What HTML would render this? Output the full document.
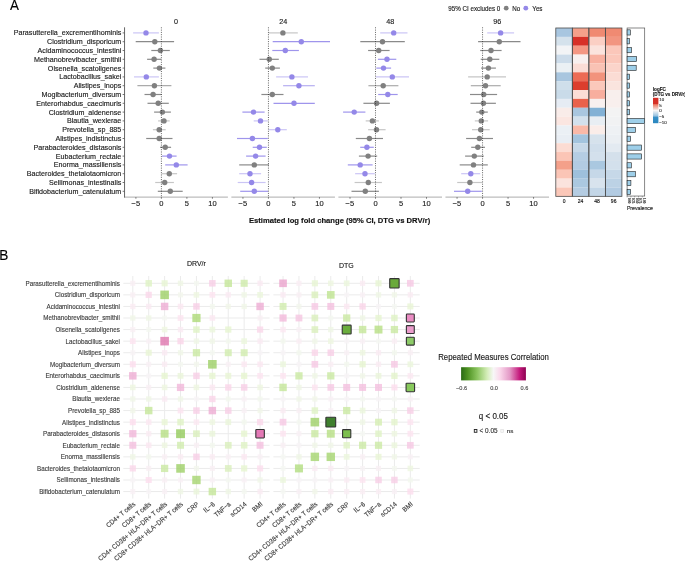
<!DOCTYPE html><html><head><meta charset="utf-8"><title>Figure</title><style>html,body{margin:0;padding:0;background:#fff;}body{width:685px;height:561px;overflow:hidden;position:relative;}svg text{font-family:"Liberation Sans", sans-serif;}svg text{filter:grayscale(1);stroke-width:0.14px;}</style></head><body><svg width="685" height="561" viewBox="0 0 685 561" style="position:absolute;left:0;top:0">
<rect width="685" height="561" fill="#fff"/>
<text transform="translate(9.9,9.9) scale(0.93,1)" font-size="14.4" fill="#000" stroke="#000">A</text>
<text x="121.3" y="35.4" font-size="7.15" text-anchor="end" fill="#1a1a1a" stroke="#1a1a1a">Parasutterella_excrementihominis</text>
<text x="121.3" y="44.2" font-size="7.15" text-anchor="end" fill="#1a1a1a" stroke="#1a1a1a">Clostridium_disporicum</text>
<text x="121.3" y="53" font-size="7.15" text-anchor="end" fill="#1a1a1a" stroke="#1a1a1a">Acidaminococcus_intestini</text>
<text x="121.3" y="61.8" font-size="7.15" text-anchor="end" fill="#1a1a1a" stroke="#1a1a1a">Methanobrevibacter_smithii</text>
<text x="121.3" y="70.6" font-size="7.15" text-anchor="end" fill="#1a1a1a" stroke="#1a1a1a">Olsenella_scatoligenes</text>
<text x="121.3" y="79.4" font-size="7.15" text-anchor="end" fill="#1a1a1a" stroke="#1a1a1a">Lactobacillus_sakei</text>
<text x="121.3" y="88.2" font-size="7.15" text-anchor="end" fill="#1a1a1a" stroke="#1a1a1a">Alistipes_inops</text>
<text x="121.3" y="97" font-size="7.15" text-anchor="end" fill="#1a1a1a" stroke="#1a1a1a">Mogibacterium_diversum</text>
<text x="121.3" y="105.8" font-size="7.15" text-anchor="end" fill="#1a1a1a" stroke="#1a1a1a">Enterorhabdus_caecimuris</text>
<text x="121.3" y="114.6" font-size="7.15" text-anchor="end" fill="#1a1a1a" stroke="#1a1a1a">Clostridium_aldenense</text>
<text x="121.3" y="123.4" font-size="7.15" text-anchor="end" fill="#1a1a1a" stroke="#1a1a1a">Blautia_wexlerae</text>
<text x="121.3" y="132.2" font-size="7.15" text-anchor="end" fill="#1a1a1a" stroke="#1a1a1a">Prevotella_sp_885</text>
<text x="121.3" y="141" font-size="7.15" text-anchor="end" fill="#1a1a1a" stroke="#1a1a1a">Alistipes_indistinctus</text>
<text x="121.3" y="149.8" font-size="7.15" text-anchor="end" fill="#1a1a1a" stroke="#1a1a1a">Parabacteroides_distasonis</text>
<text x="121.3" y="158.6" font-size="7.15" text-anchor="end" fill="#1a1a1a" stroke="#1a1a1a">Eubacterium_rectale</text>
<text x="121.3" y="167.4" font-size="7.15" text-anchor="end" fill="#1a1a1a" stroke="#1a1a1a">Enorma_massiliensis</text>
<text x="121.3" y="176.2" font-size="7.15" text-anchor="end" fill="#1a1a1a" stroke="#1a1a1a">Bacteroides_thetaiotaomicron</text>
<text x="121.3" y="185" font-size="7.15" text-anchor="end" fill="#1a1a1a" stroke="#1a1a1a">Sellimonas_intestinalis</text>
<text x="121.3" y="193.8" font-size="7.15" text-anchor="end" fill="#1a1a1a" stroke="#1a1a1a">Bifidobacterium_catenulatum</text>
<line x1="124.3" y1="197.1" x2="227.9" y2="197.1" stroke="#bdbdbd" stroke-width="1.1"/>
<line x1="135.9" y1="197.1" x2="135.9" y2="198.7" stroke="#555" stroke-width="0.8"/>
<text transform="translate(135.8,205.7) scale(0.93,1)" font-size="8.1" text-anchor="middle" fill="#1a1a1a" stroke="#1a1a1a">−5</text>
<line x1="161.4" y1="197.1" x2="161.4" y2="198.7" stroke="#555" stroke-width="0.8"/>
<text transform="translate(161.4,205.7) scale(0.93,1)" font-size="8.1" text-anchor="middle" fill="#1a1a1a" stroke="#1a1a1a">0</text>
<line x1="186.9" y1="197.1" x2="186.9" y2="198.7" stroke="#555" stroke-width="0.8"/>
<text transform="translate(186.9,205.7) scale(0.93,1)" font-size="8.1" text-anchor="middle" fill="#1a1a1a" stroke="#1a1a1a">5</text>
<line x1="212.4" y1="197.1" x2="212.4" y2="198.7" stroke="#555" stroke-width="0.8"/>
<text transform="translate(212.4,205.7) scale(0.93,1)" font-size="8.1" text-anchor="middle" fill="#1a1a1a" stroke="#1a1a1a">10</text>
<text x="176.1" y="24.3" font-size="7.2" text-anchor="middle" fill="#1a1a1a" stroke="#1a1a1a">0</text>
<line x1="133.1" y1="32.9" x2="158.9" y2="32.9" stroke="#cbc5f5" stroke-width="1.2"/>
<line x1="135.7" y1="41.7" x2="174.1" y2="41.7" stroke="#8a8a8a" stroke-width="1.2"/>
<line x1="151.3" y1="50.5" x2="169.8" y2="50.5" stroke="#8a8a8a" stroke-width="1.2"/>
<line x1="147.1" y1="59.3" x2="161.2" y2="59.3" stroke="#8a8a8a" stroke-width="1.2"/>
<line x1="153.3" y1="68.1" x2="165.4" y2="68.1" stroke="#8a8a8a" stroke-width="1.2"/>
<line x1="134" y1="76.9" x2="158.9" y2="76.9" stroke="#cbc5f5" stroke-width="1.2"/>
<line x1="137.4" y1="85.7" x2="171.4" y2="85.7" stroke="#ababab" stroke-width="1.2"/>
<line x1="144.5" y1="94.5" x2="161.6" y2="94.5" stroke="#8a8a8a" stroke-width="1.2"/>
<line x1="147.5" y1="103.3" x2="168.8" y2="103.3" stroke="#8a8a8a" stroke-width="1.2"/>
<line x1="154.1" y1="112.1" x2="170.9" y2="112.1" stroke="#8a8a8a" stroke-width="1.2"/>
<line x1="158.1" y1="120.9" x2="169.7" y2="120.9" stroke="#c6c6c6" stroke-width="1.2"/>
<line x1="152.9" y1="129.7" x2="165.7" y2="129.7" stroke="#c6c6c6" stroke-width="1.2"/>
<line x1="146.2" y1="138.5" x2="172.5" y2="138.5" stroke="#8a8a8a" stroke-width="1.2"/>
<line x1="160.1" y1="147.3" x2="171.1" y2="147.3" stroke="#8a8a8a" stroke-width="1.2"/>
<line x1="162" y1="156.1" x2="176.6" y2="156.1" stroke="#9f95ec" stroke-width="1.2"/>
<line x1="165.2" y1="164.9" x2="187.6" y2="164.9" stroke="#9f95ec" stroke-width="1.2"/>
<line x1="161.7" y1="173.7" x2="177.1" y2="173.7" stroke="#c6c6c6" stroke-width="1.2"/>
<line x1="155.2" y1="182.5" x2="173.9" y2="182.5" stroke="#c6c6c6" stroke-width="1.2"/>
<line x1="157.8" y1="191.3" x2="182.7" y2="191.3" stroke="#8a8a8a" stroke-width="1.2"/>
<circle cx="146" cy="32.9" r="2.7" fill="#9488e8"/>
<circle cx="154.8" cy="41.7" r="2.7" fill="#808080"/>
<circle cx="160.4" cy="50.5" r="2.7" fill="#808080"/>
<circle cx="154.1" cy="59.3" r="2.7" fill="#808080"/>
<circle cx="159.4" cy="68.1" r="2.7" fill="#808080"/>
<circle cx="146.3" cy="76.9" r="2.7" fill="#9488e8"/>
<circle cx="154.4" cy="85.7" r="2.7" fill="#808080"/>
<circle cx="153.1" cy="94.5" r="2.7" fill="#808080"/>
<circle cx="158.2" cy="103.3" r="2.7" fill="#808080"/>
<circle cx="162.4" cy="112.1" r="2.7" fill="#808080"/>
<circle cx="164" cy="120.9" r="2.7" fill="#808080"/>
<circle cx="159.2" cy="129.7" r="2.7" fill="#808080"/>
<circle cx="159.2" cy="138.5" r="2.7" fill="#808080"/>
<circle cx="165.2" cy="147.3" r="2.7" fill="#808080"/>
<circle cx="169.5" cy="156.1" r="2.7" fill="#9488e8"/>
<circle cx="176.3" cy="164.9" r="2.7" fill="#9488e8"/>
<circle cx="169.3" cy="173.7" r="2.7" fill="#808080"/>
<circle cx="164.7" cy="182.5" r="2.7" fill="#808080"/>
<circle cx="170.3" cy="191.3" r="2.7" fill="#808080"/>
<line x1="161.4" y1="27.3" x2="161.4" y2="196.5" stroke="#222" stroke-width="0.7" stroke-dasharray="1 1.3"/>
<line x1="231.35" y1="197.1" x2="334.95" y2="197.1" stroke="#bdbdbd" stroke-width="1.1"/>
<line x1="242.95" y1="197.1" x2="242.95" y2="198.7" stroke="#555" stroke-width="0.8"/>
<text transform="translate(242.85,205.7) scale(0.93,1)" font-size="8.1" text-anchor="middle" fill="#1a1a1a" stroke="#1a1a1a">−5</text>
<line x1="268.45" y1="197.1" x2="268.45" y2="198.7" stroke="#555" stroke-width="0.8"/>
<text transform="translate(268.45,205.7) scale(0.93,1)" font-size="8.1" text-anchor="middle" fill="#1a1a1a" stroke="#1a1a1a">0</text>
<line x1="293.95" y1="197.1" x2="293.95" y2="198.7" stroke="#555" stroke-width="0.8"/>
<text transform="translate(293.95,205.7) scale(0.93,1)" font-size="8.1" text-anchor="middle" fill="#1a1a1a" stroke="#1a1a1a">5</text>
<line x1="319.45" y1="197.1" x2="319.45" y2="198.7" stroke="#555" stroke-width="0.8"/>
<text transform="translate(319.45,205.7) scale(0.93,1)" font-size="8.1" text-anchor="middle" fill="#1a1a1a" stroke="#1a1a1a">10</text>
<text x="283.15" y="24.3" font-size="7.2" text-anchor="middle" fill="#1a1a1a" stroke="#1a1a1a">24</text>
<line x1="268.5" y1="32.9" x2="297.8" y2="32.9" stroke="#c6c6c6" stroke-width="1.2"/>
<line x1="272.7" y1="41.7" x2="330" y2="41.7" stroke="#9f95ec" stroke-width="1.2"/>
<line x1="272.3" y1="50.5" x2="298.9" y2="50.5" stroke="#9f95ec" stroke-width="1.2"/>
<line x1="259.5" y1="59.3" x2="278.8" y2="59.3" stroke="#8a8a8a" stroke-width="1.2"/>
<line x1="265.2" y1="68.1" x2="279.9" y2="68.1" stroke="#8a8a8a" stroke-width="1.2"/>
<line x1="276.1" y1="76.9" x2="308" y2="76.9" stroke="#cbc5f5" stroke-width="1.2"/>
<line x1="283.1" y1="85.7" x2="314.8" y2="85.7" stroke="#b6aef1" stroke-width="1.2"/>
<line x1="261.4" y1="94.5" x2="283.5" y2="94.5" stroke="#8a8a8a" stroke-width="1.2"/>
<line x1="273.5" y1="103.3" x2="314.8" y2="103.3" stroke="#9f95ec" stroke-width="1.2"/>
<line x1="242.4" y1="112.1" x2="264.6" y2="112.1" stroke="#9f95ec" stroke-width="1.2"/>
<line x1="253.7" y1="120.9" x2="267.8" y2="120.9" stroke="#cbc5f5" stroke-width="1.2"/>
<line x1="268.7" y1="129.7" x2="286.8" y2="129.7" stroke="#cbc5f5" stroke-width="1.2"/>
<line x1="237" y1="138.5" x2="267.8" y2="138.5" stroke="#9f95ec" stroke-width="1.2"/>
<line x1="252.7" y1="147.3" x2="266.8" y2="147.3" stroke="#9f95ec" stroke-width="1.2"/>
<line x1="246.1" y1="156.1" x2="265.6" y2="156.1" stroke="#9f95ec" stroke-width="1.2"/>
<line x1="239.2" y1="164.9" x2="269" y2="164.9" stroke="#8a8a8a" stroke-width="1.2"/>
<line x1="239.2" y1="173.7" x2="261.1" y2="173.7" stroke="#cbc5f5" stroke-width="1.2"/>
<line x1="237.7" y1="182.5" x2="265.6" y2="182.5" stroke="#cbc5f5" stroke-width="1.2"/>
<line x1="240.2" y1="191.3" x2="268.1" y2="191.3" stroke="#9f95ec" stroke-width="1.2"/>
<circle cx="282.9" cy="32.9" r="2.7" fill="#808080"/>
<circle cx="301.3" cy="41.7" r="2.7" fill="#9488e8"/>
<circle cx="285.3" cy="50.5" r="2.7" fill="#9488e8"/>
<circle cx="269.3" cy="59.3" r="2.7" fill="#808080"/>
<circle cx="272.3" cy="68.1" r="2.7" fill="#808080"/>
<circle cx="291.9" cy="76.9" r="2.7" fill="#9488e8"/>
<circle cx="298.9" cy="85.7" r="2.7" fill="#9488e8"/>
<circle cx="272.3" cy="94.5" r="2.7" fill="#808080"/>
<circle cx="294" cy="103.3" r="2.7" fill="#9488e8"/>
<circle cx="253.5" cy="112.1" r="2.7" fill="#9488e8"/>
<circle cx="260.5" cy="120.9" r="2.7" fill="#9488e8"/>
<circle cx="277.8" cy="129.7" r="2.7" fill="#9488e8"/>
<circle cx="252.4" cy="138.5" r="2.7" fill="#9488e8"/>
<circle cx="259.5" cy="147.3" r="2.7" fill="#9488e8"/>
<circle cx="255.6" cy="156.1" r="2.7" fill="#9488e8"/>
<circle cx="254.3" cy="164.9" r="2.7" fill="#808080"/>
<circle cx="250" cy="173.7" r="2.7" fill="#9488e8"/>
<circle cx="251.6" cy="182.5" r="2.7" fill="#9488e8"/>
<circle cx="254.3" cy="191.3" r="2.7" fill="#9488e8"/>
<line x1="268.45" y1="27.3" x2="268.45" y2="196.5" stroke="#222" stroke-width="0.7" stroke-dasharray="1 1.3"/>
<line x1="338.4" y1="197.1" x2="442" y2="197.1" stroke="#bdbdbd" stroke-width="1.1"/>
<line x1="350" y1="197.1" x2="350" y2="198.7" stroke="#555" stroke-width="0.8"/>
<text transform="translate(349.9,205.7) scale(0.93,1)" font-size="8.1" text-anchor="middle" fill="#1a1a1a" stroke="#1a1a1a">−5</text>
<line x1="375.5" y1="197.1" x2="375.5" y2="198.7" stroke="#555" stroke-width="0.8"/>
<text transform="translate(375.5,205.7) scale(0.93,1)" font-size="8.1" text-anchor="middle" fill="#1a1a1a" stroke="#1a1a1a">0</text>
<line x1="401" y1="197.1" x2="401" y2="198.7" stroke="#555" stroke-width="0.8"/>
<text transform="translate(401,205.7) scale(0.93,1)" font-size="8.1" text-anchor="middle" fill="#1a1a1a" stroke="#1a1a1a">5</text>
<line x1="426.5" y1="197.1" x2="426.5" y2="198.7" stroke="#555" stroke-width="0.8"/>
<text transform="translate(426.5,205.7) scale(0.93,1)" font-size="8.1" text-anchor="middle" fill="#1a1a1a" stroke="#1a1a1a">10</text>
<text x="390.2" y="24.3" font-size="7.2" text-anchor="middle" fill="#1a1a1a" stroke="#1a1a1a">48</text>
<line x1="380.2" y1="32.9" x2="407.5" y2="32.9" stroke="#cbc5f5" stroke-width="1.2"/>
<line x1="360.3" y1="41.7" x2="404.8" y2="41.7" stroke="#8a8a8a" stroke-width="1.2"/>
<line x1="368.1" y1="50.5" x2="389.6" y2="50.5" stroke="#8a8a8a" stroke-width="1.2"/>
<line x1="377.9" y1="59.3" x2="396.3" y2="59.3" stroke="#9f95ec" stroke-width="1.2"/>
<line x1="376.3" y1="68.1" x2="391.1" y2="68.1" stroke="#9f95ec" stroke-width="1.2"/>
<line x1="376" y1="76.9" x2="409" y2="76.9" stroke="#cbc5f5" stroke-width="1.2"/>
<line x1="368.4" y1="85.7" x2="398.4" y2="85.7" stroke="#ababab" stroke-width="1.2"/>
<line x1="378.2" y1="94.5" x2="397.7" y2="94.5" stroke="#9f95ec" stroke-width="1.2"/>
<line x1="363.4" y1="103.3" x2="389.9" y2="103.3" stroke="#8a8a8a" stroke-width="1.2"/>
<line x1="343.1" y1="112.1" x2="365.4" y2="112.1" stroke="#9f95ec" stroke-width="1.2"/>
<line x1="365.7" y1="120.9" x2="378.9" y2="120.9" stroke="#c6c6c6" stroke-width="1.2"/>
<line x1="368.1" y1="129.7" x2="385.6" y2="129.7" stroke="#c6c6c6" stroke-width="1.2"/>
<line x1="355.8" y1="138.5" x2="383" y2="138.5" stroke="#8a8a8a" stroke-width="1.2"/>
<line x1="360.2" y1="147.3" x2="373.8" y2="147.3" stroke="#9f95ec" stroke-width="1.2"/>
<line x1="358.9" y1="156.1" x2="377.2" y2="156.1" stroke="#8a8a8a" stroke-width="1.2"/>
<line x1="347.8" y1="164.9" x2="372.6" y2="164.9" stroke="#9f95ec" stroke-width="1.2"/>
<line x1="355.1" y1="173.7" x2="374.8" y2="173.7" stroke="#cbc5f5" stroke-width="1.2"/>
<line x1="354.6" y1="182.5" x2="381.9" y2="182.5" stroke="#c6c6c6" stroke-width="1.2"/>
<line x1="351.5" y1="191.3" x2="378.9" y2="191.3" stroke="#8a8a8a" stroke-width="1.2"/>
<circle cx="393.7" cy="32.9" r="2.7" fill="#9488e8"/>
<circle cx="382.5" cy="41.7" r="2.7" fill="#808080"/>
<circle cx="378.7" cy="50.5" r="2.7" fill="#808080"/>
<circle cx="387" cy="59.3" r="2.7" fill="#9488e8"/>
<circle cx="383.5" cy="68.1" r="2.7" fill="#9488e8"/>
<circle cx="392.3" cy="76.9" r="2.7" fill="#9488e8"/>
<circle cx="383.2" cy="85.7" r="2.7" fill="#808080"/>
<circle cx="387.8" cy="94.5" r="2.7" fill="#9488e8"/>
<circle cx="376.6" cy="103.3" r="2.7" fill="#808080"/>
<circle cx="354.2" cy="112.1" r="2.7" fill="#9488e8"/>
<circle cx="372.4" cy="120.9" r="2.7" fill="#808080"/>
<circle cx="376.5" cy="129.7" r="2.7" fill="#808080"/>
<circle cx="369.4" cy="138.5" r="2.7" fill="#808080"/>
<circle cx="366.9" cy="147.3" r="2.7" fill="#9488e8"/>
<circle cx="368.1" cy="156.1" r="2.7" fill="#808080"/>
<circle cx="360.2" cy="164.9" r="2.7" fill="#9488e8"/>
<circle cx="365" cy="173.7" r="2.7" fill="#9488e8"/>
<circle cx="368.3" cy="182.5" r="2.7" fill="#808080"/>
<circle cx="365.3" cy="191.3" r="2.7" fill="#808080"/>
<line x1="375.5" y1="27.3" x2="375.5" y2="196.5" stroke="#222" stroke-width="0.7" stroke-dasharray="1 1.3"/>
<line x1="445.45" y1="197.1" x2="549.05" y2="197.1" stroke="#bdbdbd" stroke-width="1.1"/>
<line x1="457.05" y1="197.1" x2="457.05" y2="198.7" stroke="#555" stroke-width="0.8"/>
<text transform="translate(456.95,205.7) scale(0.93,1)" font-size="8.1" text-anchor="middle" fill="#1a1a1a" stroke="#1a1a1a">−5</text>
<line x1="482.55" y1="197.1" x2="482.55" y2="198.7" stroke="#555" stroke-width="0.8"/>
<text transform="translate(482.55,205.7) scale(0.93,1)" font-size="8.1" text-anchor="middle" fill="#1a1a1a" stroke="#1a1a1a">0</text>
<line x1="508.05" y1="197.1" x2="508.05" y2="198.7" stroke="#555" stroke-width="0.8"/>
<text transform="translate(508.05,205.7) scale(0.93,1)" font-size="8.1" text-anchor="middle" fill="#1a1a1a" stroke="#1a1a1a">5</text>
<line x1="533.55" y1="197.1" x2="533.55" y2="198.7" stroke="#555" stroke-width="0.8"/>
<text transform="translate(533.55,205.7) scale(0.93,1)" font-size="8.1" text-anchor="middle" fill="#1a1a1a" stroke="#1a1a1a">10</text>
<text x="497.25" y="24.3" font-size="7.2" text-anchor="middle" fill="#1a1a1a" stroke="#1a1a1a">96</text>
<line x1="487.2" y1="32.9" x2="514.1" y2="32.9" stroke="#cbc5f5" stroke-width="1.2"/>
<line x1="478.1" y1="41.7" x2="520.5" y2="41.7" stroke="#8a8a8a" stroke-width="1.2"/>
<line x1="480.2" y1="50.5" x2="501.6" y2="50.5" stroke="#8a8a8a" stroke-width="1.2"/>
<line x1="480.7" y1="59.3" x2="499.3" y2="59.3" stroke="#8a8a8a" stroke-width="1.2"/>
<line x1="481.1" y1="68.1" x2="495.9" y2="68.1" stroke="#8a8a8a" stroke-width="1.2"/>
<line x1="468.1" y1="76.9" x2="506" y2="76.9" stroke="#c6c6c6" stroke-width="1.2"/>
<line x1="470.8" y1="85.7" x2="500.7" y2="85.7" stroke="#ababab" stroke-width="1.2"/>
<line x1="470" y1="94.5" x2="497.1" y2="94.5" stroke="#8a8a8a" stroke-width="1.2"/>
<line x1="470.5" y1="103.3" x2="495.9" y2="103.3" stroke="#8a8a8a" stroke-width="1.2"/>
<line x1="476.2" y1="112.1" x2="487.8" y2="112.1" stroke="#8a8a8a" stroke-width="1.2"/>
<line x1="474.8" y1="120.9" x2="488.1" y2="120.9" stroke="#c6c6c6" stroke-width="1.2"/>
<line x1="472" y1="129.7" x2="489.7" y2="129.7" stroke="#c6c6c6" stroke-width="1.2"/>
<line x1="466.1" y1="138.5" x2="493" y2="138.5" stroke="#8a8a8a" stroke-width="1.2"/>
<line x1="471.2" y1="147.3" x2="485" y2="147.3" stroke="#8a8a8a" stroke-width="1.2"/>
<line x1="465.1" y1="156.1" x2="483.8" y2="156.1" stroke="#8a8a8a" stroke-width="1.2"/>
<line x1="459.7" y1="164.9" x2="487.8" y2="164.9" stroke="#8a8a8a" stroke-width="1.2"/>
<line x1="461.2" y1="173.7" x2="480.2" y2="173.7" stroke="#cbc5f5" stroke-width="1.2"/>
<line x1="457.2" y1="182.5" x2="482.3" y2="182.5" stroke="#c6c6c6" stroke-width="1.2"/>
<line x1="454" y1="191.3" x2="481.8" y2="191.3" stroke="#9f95ec" stroke-width="1.2"/>
<circle cx="500.6" cy="32.9" r="2.7" fill="#9488e8"/>
<circle cx="499.3" cy="41.7" r="2.7" fill="#808080"/>
<circle cx="491" cy="50.5" r="2.7" fill="#808080"/>
<circle cx="489.8" cy="59.3" r="2.7" fill="#808080"/>
<circle cx="488.4" cy="68.1" r="2.7" fill="#808080"/>
<circle cx="487.2" cy="76.9" r="2.7" fill="#808080"/>
<circle cx="485.5" cy="85.7" r="2.7" fill="#808080"/>
<circle cx="483.7" cy="94.5" r="2.7" fill="#808080"/>
<circle cx="483.4" cy="103.3" r="2.7" fill="#808080"/>
<circle cx="481.8" cy="112.1" r="2.7" fill="#808080"/>
<circle cx="481.3" cy="120.9" r="2.7" fill="#808080"/>
<circle cx="480.7" cy="129.7" r="2.7" fill="#808080"/>
<circle cx="479.4" cy="138.5" r="2.7" fill="#808080"/>
<circle cx="477.8" cy="147.3" r="2.7" fill="#808080"/>
<circle cx="474.3" cy="156.1" r="2.7" fill="#808080"/>
<circle cx="473.5" cy="164.9" r="2.7" fill="#808080"/>
<circle cx="470.8" cy="173.7" r="2.7" fill="#9488e8"/>
<circle cx="469.9" cy="182.5" r="2.7" fill="#808080"/>
<circle cx="467.7" cy="191.3" r="2.7" fill="#9488e8"/>
<line x1="482.55" y1="27.3" x2="482.55" y2="196.5" stroke="#222" stroke-width="0.7" stroke-dasharray="1 1.3"/>
<line x1="124.55" y1="27.3" x2="124.55" y2="197.6" stroke="#666" stroke-width="1"/>
<line x1="122.6" y1="32.9" x2="124.5" y2="32.9" stroke="#555" stroke-width="0.8"/>
<line x1="122.6" y1="41.7" x2="124.5" y2="41.7" stroke="#555" stroke-width="0.8"/>
<line x1="122.6" y1="50.5" x2="124.5" y2="50.5" stroke="#555" stroke-width="0.8"/>
<line x1="122.6" y1="59.3" x2="124.5" y2="59.3" stroke="#555" stroke-width="0.8"/>
<line x1="122.6" y1="68.1" x2="124.5" y2="68.1" stroke="#555" stroke-width="0.8"/>
<line x1="122.6" y1="76.9" x2="124.5" y2="76.9" stroke="#555" stroke-width="0.8"/>
<line x1="122.6" y1="85.7" x2="124.5" y2="85.7" stroke="#555" stroke-width="0.8"/>
<line x1="122.6" y1="94.5" x2="124.5" y2="94.5" stroke="#555" stroke-width="0.8"/>
<line x1="122.6" y1="103.3" x2="124.5" y2="103.3" stroke="#555" stroke-width="0.8"/>
<line x1="122.6" y1="112.1" x2="124.5" y2="112.1" stroke="#555" stroke-width="0.8"/>
<line x1="122.6" y1="120.9" x2="124.5" y2="120.9" stroke="#555" stroke-width="0.8"/>
<line x1="122.6" y1="129.7" x2="124.5" y2="129.7" stroke="#555" stroke-width="0.8"/>
<line x1="122.6" y1="138.5" x2="124.5" y2="138.5" stroke="#555" stroke-width="0.8"/>
<line x1="122.6" y1="147.3" x2="124.5" y2="147.3" stroke="#555" stroke-width="0.8"/>
<line x1="122.6" y1="156.1" x2="124.5" y2="156.1" stroke="#555" stroke-width="0.8"/>
<line x1="122.6" y1="164.9" x2="124.5" y2="164.9" stroke="#555" stroke-width="0.8"/>
<line x1="122.6" y1="173.7" x2="124.5" y2="173.7" stroke="#555" stroke-width="0.8"/>
<line x1="122.6" y1="182.5" x2="124.5" y2="182.5" stroke="#555" stroke-width="0.8"/>
<line x1="122.6" y1="191.3" x2="124.5" y2="191.3" stroke="#555" stroke-width="0.8"/>
<text x="249.0" y="223.0" font-size="7.64" font-weight="bold" fill="#111" stroke="#111">Estimated log fold change (95% CI, DTG vs DRV/r)</text>
<text transform="translate(448.2,10.6) scale(0.9,1)" font-size="6.95" fill="#1a1a1a" stroke="#1a1a1a">95% CI excludes 0</text>
<circle cx="506.2" cy="8.2" r="2.4" fill="#808080"/>
<text transform="translate(512.2,10.6) scale(0.9,1)" font-size="6.95" fill="#1a1a1a" stroke="#1a1a1a">No</text>
<circle cx="525.8" cy="8.2" r="2.4" fill="#9488e8"/>
<text transform="translate(532.3,10.6) scale(0.9,1)" font-size="6.95" fill="#1a1a1a" stroke="#1a1a1a">Yes</text>
<rect x="555.8" y="28" width="16.58" height="8.91" fill="#a8c6e0"/>
<rect x="555.8" y="36.86" width="16.58" height="8.91" fill="#d5e2ec"/>
<rect x="555.8" y="45.72" width="16.58" height="8.91" fill="#f3f4f6"/>
<rect x="555.8" y="54.58" width="16.58" height="8.91" fill="#cddcea"/>
<rect x="555.8" y="63.44" width="16.58" height="8.91" fill="#ebf0f4"/>
<rect x="555.8" y="72.3" width="16.58" height="8.91" fill="#a9c6df"/>
<rect x="555.8" y="81.16" width="16.58" height="8.91" fill="#cfdfeb"/>
<rect x="555.8" y="90.02" width="16.58" height="8.91" fill="#c9dbe9"/>
<rect x="555.8" y="98.88" width="16.58" height="8.91" fill="#e6ecf4"/>
<rect x="555.8" y="107.74" width="16.58" height="8.91" fill="#f9ece9"/>
<rect x="555.8" y="116.6" width="16.58" height="8.91" fill="#fbe6e1"/>
<rect x="555.8" y="125.46" width="16.58" height="8.91" fill="#ebf0f5"/>
<rect x="555.8" y="134.32" width="16.58" height="8.91" fill="#e9eef4"/>
<rect x="555.8" y="143.18" width="16.58" height="8.91" fill="#fcdcd3"/>
<rect x="555.8" y="152.04" width="16.58" height="8.91" fill="#fbc5b6"/>
<rect x="555.8" y="160.9" width="16.58" height="8.91" fill="#f4a08a"/>
<rect x="555.8" y="169.76" width="16.58" height="8.91" fill="#fbc5b6"/>
<rect x="555.8" y="178.62" width="16.58" height="8.91" fill="#fbe3dd"/>
<rect x="555.8" y="187.48" width="16.58" height="8.91" fill="#fbc7b8"/>
<rect x="572.33" y="28" width="16.58" height="8.91" fill="#f5a08a"/>
<rect x="572.33" y="36.86" width="16.58" height="8.91" fill="#d73027"/>
<rect x="572.33" y="45.72" width="16.58" height="8.91" fill="#f49783"/>
<rect x="572.33" y="54.58" width="16.58" height="8.91" fill="#f8f0ef"/>
<rect x="572.33" y="63.44" width="16.58" height="8.91" fill="#fbddd6"/>
<rect x="572.33" y="72.3" width="16.58" height="8.91" fill="#ec6b55"/>
<rect x="572.33" y="81.16" width="16.58" height="8.91" fill="#dc3d2d"/>
<rect x="572.33" y="90.02" width="16.58" height="8.91" fill="#fbddd6"/>
<rect x="572.33" y="98.88" width="16.58" height="8.91" fill="#e9624c"/>
<rect x="572.33" y="107.74" width="16.58" height="8.91" fill="#a9c6df"/>
<rect x="572.33" y="116.6" width="16.58" height="8.91" fill="#d3e0ec"/>
<rect x="572.33" y="125.46" width="16.58" height="8.91" fill="#f9b9a8"/>
<rect x="572.33" y="134.32" width="16.58" height="8.91" fill="#a3c4de"/>
<rect x="572.33" y="143.18" width="16.58" height="8.91" fill="#c6d8e8"/>
<rect x="572.33" y="152.04" width="16.58" height="8.91" fill="#b5cde3"/>
<rect x="572.33" y="160.9" width="16.58" height="8.91" fill="#b2cbe2"/>
<rect x="572.33" y="169.76" width="16.58" height="8.91" fill="#9ec0dc"/>
<rect x="572.33" y="178.62" width="16.58" height="8.91" fill="#abc8e0"/>
<rect x="572.33" y="187.48" width="16.58" height="8.91" fill="#b4cce2"/>
<rect x="588.86" y="28" width="16.58" height="8.91" fill="#f08a72"/>
<rect x="588.86" y="36.86" width="16.58" height="8.91" fill="#fbcfc4"/>
<rect x="588.86" y="45.72" width="16.58" height="8.91" fill="#fbe3dd"/>
<rect x="588.86" y="54.58" width="16.58" height="8.91" fill="#f8b0a0"/>
<rect x="588.86" y="63.44" width="16.58" height="8.91" fill="#f9c2b4"/>
<rect x="588.86" y="72.3" width="16.58" height="8.91" fill="#f2937c"/>
<rect x="588.86" y="81.16" width="16.58" height="8.91" fill="#fbc8bb"/>
<rect x="588.86" y="90.02" width="16.58" height="8.91" fill="#f8ae9e"/>
<rect x="588.86" y="98.88" width="16.58" height="8.91" fill="#f8f0ef"/>
<rect x="588.86" y="107.74" width="16.58" height="8.91" fill="#82b1d5"/>
<rect x="588.86" y="116.6" width="16.58" height="8.91" fill="#e8eef3"/>
<rect x="588.86" y="125.46" width="16.58" height="8.91" fill="#faede9"/>
<rect x="588.86" y="134.32" width="16.58" height="8.91" fill="#d6e2ec"/>
<rect x="588.86" y="143.18" width="16.58" height="8.91" fill="#d0deeb"/>
<rect x="588.86" y="152.04" width="16.58" height="8.91" fill="#d3e0ec"/>
<rect x="588.86" y="160.9" width="16.58" height="8.91" fill="#aac8e0"/>
<rect x="588.86" y="169.76" width="16.58" height="8.91" fill="#c6d8e8"/>
<rect x="588.86" y="178.62" width="16.58" height="8.91" fill="#d8e3ed"/>
<rect x="588.86" y="187.48" width="16.58" height="8.91" fill="#c3d6e7"/>
<rect x="605.39" y="28" width="16.58" height="8.91" fill="#f08a72"/>
<rect x="605.39" y="36.86" width="16.58" height="8.91" fill="#f29580"/>
<rect x="605.39" y="45.72" width="16.58" height="8.91" fill="#fbc7ba"/>
<rect x="605.39" y="54.58" width="16.58" height="8.91" fill="#fbc8bb"/>
<rect x="605.39" y="63.44" width="16.58" height="8.91" fill="#fbd4ca"/>
<rect x="605.39" y="72.3" width="16.58" height="8.91" fill="#fbdcd4"/>
<rect x="605.39" y="81.16" width="16.58" height="8.91" fill="#fae4de"/>
<rect x="605.39" y="90.02" width="16.58" height="8.91" fill="#f8efed"/>
<rect x="605.39" y="98.88" width="16.58" height="8.91" fill="#f8efed"/>
<rect x="605.39" y="107.74" width="16.58" height="8.91" fill="#f3f3f3"/>
<rect x="605.39" y="116.6" width="16.58" height="8.91" fill="#f1f2f3"/>
<rect x="605.39" y="125.46" width="16.58" height="8.91" fill="#eef1f4"/>
<rect x="605.39" y="134.32" width="16.58" height="8.91" fill="#ebeff3"/>
<rect x="605.39" y="143.18" width="16.58" height="8.91" fill="#e3eaf1"/>
<rect x="605.39" y="152.04" width="16.58" height="8.91" fill="#d4e0eb"/>
<rect x="605.39" y="160.9" width="16.58" height="8.91" fill="#d3e0ec"/>
<rect x="605.39" y="169.76" width="16.58" height="8.91" fill="#c6d8e8"/>
<rect x="605.39" y="178.62" width="16.58" height="8.91" fill="#bcd2e5"/>
<rect x="605.39" y="187.48" width="16.58" height="8.91" fill="#b2cbe2"/>
<rect x="555.8" y="28" width="16.53" height="168.34" fill="none" stroke="#4d4d4d" stroke-width="0.8"/>
<rect x="572.33" y="28" width="16.53" height="168.34" fill="none" stroke="#4d4d4d" stroke-width="0.8"/>
<rect x="588.86" y="28" width="16.53" height="168.34" fill="none" stroke="#4d4d4d" stroke-width="0.8"/>
<rect x="605.39" y="28" width="16.53" height="168.34" fill="none" stroke="#4d4d4d" stroke-width="0.8"/>
<text x="564.06" y="202.8" font-size="5.0" text-anchor="middle" fill="#111" stroke="#111">0</text>
<text x="580.59" y="202.8" font-size="5.0" text-anchor="middle" fill="#111" stroke="#111">24</text>
<text x="597.12" y="202.8" font-size="5.0" text-anchor="middle" fill="#111" stroke="#111">48</text>
<text x="613.65" y="202.8" font-size="5.0" text-anchor="middle" fill="#111" stroke="#111">96</text>
<rect x="627.1" y="28" width="17.6" height="168.04" fill="#fff" stroke="#555" stroke-width="0.7"/>
<rect x="627.1" y="29.83" width="3.2" height="5.2" fill="#9ecfe9" stroke="#222" stroke-width="0.6"/>
<rect x="627.1" y="38.69" width="2.3" height="5.2" fill="#9ecfe9" stroke="#222" stroke-width="0.6"/>
<rect x="627.1" y="47.55" width="4.5" height="5.2" fill="#9ecfe9" stroke="#222" stroke-width="0.6"/>
<rect x="627.1" y="56.41" width="9.6" height="5.2" fill="#9ecfe9" stroke="#222" stroke-width="0.6"/>
<rect x="627.1" y="65.27" width="9.1" height="5.2" fill="#9ecfe9" stroke="#222" stroke-width="0.6"/>
<rect x="627.1" y="74.13" width="2.5" height="5.2" fill="#9ecfe9" stroke="#222" stroke-width="0.6"/>
<rect x="627.1" y="82.99" width="2.5" height="5.2" fill="#9ecfe9" stroke="#222" stroke-width="0.6"/>
<rect x="627.1" y="91.85" width="2.5" height="5.2" fill="#9ecfe9" stroke="#222" stroke-width="0.6"/>
<rect x="627.1" y="100.71" width="2.5" height="5.2" fill="#9ecfe9" stroke="#222" stroke-width="0.6"/>
<rect x="627.1" y="109.57" width="2.5" height="5.2" fill="#9ecfe9" stroke="#222" stroke-width="0.6"/>
<rect x="627.1" y="118.43" width="17.6" height="5.2" fill="#9ecfe9" stroke="#222" stroke-width="0.6"/>
<rect x="627.1" y="127.29" width="8.3" height="5.2" fill="#9ecfe9" stroke="#222" stroke-width="0.6"/>
<rect x="627.1" y="136.15" width="3.6" height="5.2" fill="#9ecfe9" stroke="#222" stroke-width="0.6"/>
<rect x="627.1" y="145.01" width="14.6" height="5.2" fill="#9ecfe9" stroke="#222" stroke-width="0.6"/>
<rect x="627.1" y="153.87" width="14.6" height="5.2" fill="#9ecfe9" stroke="#222" stroke-width="0.6"/>
<rect x="627.1" y="162.73" width="4.2" height="5.2" fill="#9ecfe9" stroke="#222" stroke-width="0.6"/>
<rect x="627.1" y="171.59" width="8.3" height="5.2" fill="#9ecfe9" stroke="#222" stroke-width="0.6"/>
<rect x="627.1" y="180.45" width="3.8" height="5.2" fill="#9ecfe9" stroke="#222" stroke-width="0.6"/>
<rect x="627.1" y="189.31" width="3.6" height="5.2" fill="#9ecfe9" stroke="#222" stroke-width="0.6"/>
<line x1="627.1" y1="196.3" x2="627.1" y2="197.3" stroke="#333" stroke-width="0.5"/>
<text transform="translate(628,197.9) rotate(90)" font-size="2.7" fill="#333" stroke="#333">0.00</text>
<line x1="630.9" y1="196.3" x2="630.9" y2="197.3" stroke="#333" stroke-width="0.5"/>
<text transform="translate(631.8,197.9) rotate(90)" font-size="2.7" fill="#333" stroke="#333">0.25</text>
<line x1="634.7" y1="196.3" x2="634.7" y2="197.3" stroke="#333" stroke-width="0.5"/>
<text transform="translate(635.6,197.9) rotate(90)" font-size="2.7" fill="#333" stroke="#333">0.50</text>
<line x1="638.5" y1="196.3" x2="638.5" y2="197.3" stroke="#333" stroke-width="0.5"/>
<text transform="translate(639.4,197.9) rotate(90)" font-size="2.7" fill="#333" stroke="#333">0.75</text>
<line x1="642.3" y1="196.3" x2="642.3" y2="197.3" stroke="#333" stroke-width="0.5"/>
<text transform="translate(643.2,197.9) rotate(90)" font-size="2.7" fill="#333" stroke="#333">1.00</text>
<text x="626.9" y="209.8" font-size="5.2" fill="#222" stroke="#222">Prevalence</text>
<defs><linearGradient id="lfc" x1="0" y1="0" x2="0" y2="1"><stop offset="0" stop-color="#d42d26"/><stop offset="0.23" stop-color="#d73027"/><stop offset="0.27" stop-color="#ee7d66"/><stop offset="0.5" stop-color="#f6f6f6"/><stop offset="0.72" stop-color="#92c0e0"/><stop offset="0.76" stop-color="#3590c7"/><stop offset="1" stop-color="#2a86bf"/></linearGradient><linearGradient id="rmc" x1="0" y1="0" x2="1" y2="0"><stop offset="0" stop-color="#2a6a14"/><stop offset="0.1" stop-color="#4d9221"/><stop offset="0.25" stop-color="#8cc560"/><stop offset="0.4" stop-color="#d4edb8"/><stop offset="0.5" stop-color="#f7f7f7"/><stop offset="0.6" stop-color="#fad8eb"/><stop offset="0.75" stop-color="#e49ac7"/><stop offset="0.9" stop-color="#c51b7d"/><stop offset="1" stop-color="#8e0152"/></linearGradient></defs>
<text x="652.8" y="91.3" font-size="4.6" font-weight="bold" fill="#1a1a1a" stroke="#1a1a1a">logFC</text>
<text x="652.8" y="95.5" font-size="4.6" font-weight="bold" fill="#1a1a1a" stroke="#1a1a1a">(DTG vs DRV/r)</text>
<rect x="653.0" y="97.8" width="5.4" height="25.4" fill="url(#lfc)"/>
<text x="659.3" y="100.75" font-size="4.4" fill="#333" stroke="#333">10</text>
<text x="659.3" y="106.95" font-size="4.4" fill="#333" stroke="#333">5</text>
<text x="659.3" y="112.35" font-size="4.4" fill="#333" stroke="#333">0</text>
<text x="659.3" y="118.05" font-size="4.4" fill="#333" stroke="#333">−5</text>
<text x="659.3" y="123.55" font-size="4.4" fill="#333" stroke="#333">−10</text>
<text transform="translate(-0.8,259.9) scale(0.96,1)" font-size="14.2" fill="#000" stroke="#000">B</text>
<text transform="translate(196.4,266.1) scale(0.91,1)" font-size="7.7" text-anchor="middle" fill="#1a1a1a" stroke="#1a1a1a">DRV/r</text>
<text transform="translate(346.4,267.7) scale(0.91,1)" font-size="7.7" text-anchor="middle" fill="#1a1a1a" stroke="#1a1a1a">DTG</text>
<text transform="translate(119.9,285.75) scale(0.91,1)" font-size="6.9" text-anchor="end" fill="#3d3d3d" stroke="#3d3d3d">Parasutterella_excrementihominis</text>
<text transform="translate(119.9,297.32) scale(0.91,1)" font-size="6.9" text-anchor="end" fill="#3d3d3d" stroke="#3d3d3d">Clostridium_disporicum</text>
<text transform="translate(119.9,308.89) scale(0.91,1)" font-size="6.9" text-anchor="end" fill="#3d3d3d" stroke="#3d3d3d">Acidaminococcus_intestini</text>
<text transform="translate(119.9,320.46) scale(0.91,1)" font-size="6.9" text-anchor="end" fill="#3d3d3d" stroke="#3d3d3d">Methanobrevibacter_smithii</text>
<text transform="translate(119.9,332.03) scale(0.91,1)" font-size="6.9" text-anchor="end" fill="#3d3d3d" stroke="#3d3d3d">Olsenella_scatoligenes</text>
<text transform="translate(119.9,343.6) scale(0.91,1)" font-size="6.9" text-anchor="end" fill="#3d3d3d" stroke="#3d3d3d">Lactobacillus_sakei</text>
<text transform="translate(119.9,355.17) scale(0.91,1)" font-size="6.9" text-anchor="end" fill="#3d3d3d" stroke="#3d3d3d">Alistipes_inops</text>
<text transform="translate(119.9,366.74) scale(0.91,1)" font-size="6.9" text-anchor="end" fill="#3d3d3d" stroke="#3d3d3d">Mogibacterium_diversum</text>
<text transform="translate(119.9,378.31) scale(0.91,1)" font-size="6.9" text-anchor="end" fill="#3d3d3d" stroke="#3d3d3d">Enterorhabdus_caecimuris</text>
<text transform="translate(119.9,389.88) scale(0.91,1)" font-size="6.9" text-anchor="end" fill="#3d3d3d" stroke="#3d3d3d">Clostridium_aldenense</text>
<text transform="translate(119.9,401.45) scale(0.91,1)" font-size="6.9" text-anchor="end" fill="#3d3d3d" stroke="#3d3d3d">Blautia_wexlerae</text>
<text transform="translate(119.9,413.02) scale(0.91,1)" font-size="6.9" text-anchor="end" fill="#3d3d3d" stroke="#3d3d3d">Prevotella_sp_885</text>
<text transform="translate(119.9,424.59) scale(0.91,1)" font-size="6.9" text-anchor="end" fill="#3d3d3d" stroke="#3d3d3d">Alistipes_indistinctus</text>
<text transform="translate(119.9,436.16) scale(0.91,1)" font-size="6.9" text-anchor="end" fill="#3d3d3d" stroke="#3d3d3d">Parabacteroides_distasonis</text>
<text transform="translate(119.9,447.73) scale(0.91,1)" font-size="6.9" text-anchor="end" fill="#3d3d3d" stroke="#3d3d3d">Eubacterium_rectale</text>
<text transform="translate(119.9,459.3) scale(0.91,1)" font-size="6.9" text-anchor="end" fill="#3d3d3d" stroke="#3d3d3d">Enorma_massiliensis</text>
<text transform="translate(119.9,470.87) scale(0.91,1)" font-size="6.9" text-anchor="end" fill="#3d3d3d" stroke="#3d3d3d">Bacteroides_thetaiotaomicron</text>
<text transform="translate(119.9,482.44) scale(0.91,1)" font-size="6.9" text-anchor="end" fill="#3d3d3d" stroke="#3d3d3d">Sellimonas_intestinalis</text>
<text transform="translate(119.9,494.01) scale(0.91,1)" font-size="6.9" text-anchor="end" fill="#3d3d3d" stroke="#3d3d3d">Bifidobacterium_catenulatum</text>
<line x1="123.3" y1="283.3" x2="269.6" y2="283.3" stroke="#ebebeb" stroke-width="1"/>
<line x1="123.3" y1="294.87" x2="269.6" y2="294.87" stroke="#ebebeb" stroke-width="1"/>
<line x1="123.3" y1="306.44" x2="269.6" y2="306.44" stroke="#ebebeb" stroke-width="1"/>
<line x1="123.3" y1="318.01" x2="269.6" y2="318.01" stroke="#ebebeb" stroke-width="1"/>
<line x1="123.3" y1="329.58" x2="269.6" y2="329.58" stroke="#ebebeb" stroke-width="1"/>
<line x1="123.3" y1="341.15" x2="269.6" y2="341.15" stroke="#ebebeb" stroke-width="1"/>
<line x1="123.3" y1="352.72" x2="269.6" y2="352.72" stroke="#ebebeb" stroke-width="1"/>
<line x1="123.3" y1="364.29" x2="269.6" y2="364.29" stroke="#ebebeb" stroke-width="1"/>
<line x1="123.3" y1="375.86" x2="269.6" y2="375.86" stroke="#ebebeb" stroke-width="1"/>
<line x1="123.3" y1="387.43" x2="269.6" y2="387.43" stroke="#ebebeb" stroke-width="1"/>
<line x1="123.3" y1="399" x2="269.6" y2="399" stroke="#ebebeb" stroke-width="1"/>
<line x1="123.3" y1="410.57" x2="269.6" y2="410.57" stroke="#ebebeb" stroke-width="1"/>
<line x1="123.3" y1="422.14" x2="269.6" y2="422.14" stroke="#ebebeb" stroke-width="1"/>
<line x1="123.3" y1="433.71" x2="269.6" y2="433.71" stroke="#ebebeb" stroke-width="1"/>
<line x1="123.3" y1="445.28" x2="269.6" y2="445.28" stroke="#ebebeb" stroke-width="1"/>
<line x1="123.3" y1="456.85" x2="269.6" y2="456.85" stroke="#ebebeb" stroke-width="1"/>
<line x1="123.3" y1="468.42" x2="269.6" y2="468.42" stroke="#ebebeb" stroke-width="1"/>
<line x1="123.3" y1="479.99" x2="269.6" y2="479.99" stroke="#ebebeb" stroke-width="1"/>
<line x1="123.3" y1="491.56" x2="269.6" y2="491.56" stroke="#ebebeb" stroke-width="1"/>
<line x1="132.8" y1="276" x2="132.8" y2="498.6" stroke="#ebebeb" stroke-width="1"/>
<line x1="148.71" y1="276" x2="148.71" y2="498.6" stroke="#ebebeb" stroke-width="1"/>
<line x1="164.62" y1="276" x2="164.62" y2="498.6" stroke="#ebebeb" stroke-width="1"/>
<line x1="180.53" y1="276" x2="180.53" y2="498.6" stroke="#ebebeb" stroke-width="1"/>
<line x1="196.44" y1="276" x2="196.44" y2="498.6" stroke="#ebebeb" stroke-width="1"/>
<line x1="212.35" y1="276" x2="212.35" y2="498.6" stroke="#ebebeb" stroke-width="1"/>
<line x1="228.26" y1="276" x2="228.26" y2="498.6" stroke="#ebebeb" stroke-width="1"/>
<line x1="244.17" y1="276" x2="244.17" y2="498.6" stroke="#ebebeb" stroke-width="1"/>
<line x1="260.08" y1="276" x2="260.08" y2="498.6" stroke="#ebebeb" stroke-width="1"/>
<line x1="273.4" y1="283.3" x2="419.7" y2="283.3" stroke="#ebebeb" stroke-width="1"/>
<line x1="273.4" y1="294.87" x2="419.7" y2="294.87" stroke="#ebebeb" stroke-width="1"/>
<line x1="273.4" y1="306.44" x2="419.7" y2="306.44" stroke="#ebebeb" stroke-width="1"/>
<line x1="273.4" y1="318.01" x2="419.7" y2="318.01" stroke="#ebebeb" stroke-width="1"/>
<line x1="273.4" y1="329.58" x2="419.7" y2="329.58" stroke="#ebebeb" stroke-width="1"/>
<line x1="273.4" y1="341.15" x2="419.7" y2="341.15" stroke="#ebebeb" stroke-width="1"/>
<line x1="273.4" y1="352.72" x2="419.7" y2="352.72" stroke="#ebebeb" stroke-width="1"/>
<line x1="273.4" y1="364.29" x2="419.7" y2="364.29" stroke="#ebebeb" stroke-width="1"/>
<line x1="273.4" y1="375.86" x2="419.7" y2="375.86" stroke="#ebebeb" stroke-width="1"/>
<line x1="273.4" y1="387.43" x2="419.7" y2="387.43" stroke="#ebebeb" stroke-width="1"/>
<line x1="273.4" y1="399" x2="419.7" y2="399" stroke="#ebebeb" stroke-width="1"/>
<line x1="273.4" y1="410.57" x2="419.7" y2="410.57" stroke="#ebebeb" stroke-width="1"/>
<line x1="273.4" y1="422.14" x2="419.7" y2="422.14" stroke="#ebebeb" stroke-width="1"/>
<line x1="273.4" y1="433.71" x2="419.7" y2="433.71" stroke="#ebebeb" stroke-width="1"/>
<line x1="273.4" y1="445.28" x2="419.7" y2="445.28" stroke="#ebebeb" stroke-width="1"/>
<line x1="273.4" y1="456.85" x2="419.7" y2="456.85" stroke="#ebebeb" stroke-width="1"/>
<line x1="273.4" y1="468.42" x2="419.7" y2="468.42" stroke="#ebebeb" stroke-width="1"/>
<line x1="273.4" y1="479.99" x2="419.7" y2="479.99" stroke="#ebebeb" stroke-width="1"/>
<line x1="273.4" y1="491.56" x2="419.7" y2="491.56" stroke="#ebebeb" stroke-width="1"/>
<line x1="283.05" y1="276" x2="283.05" y2="498.6" stroke="#ebebeb" stroke-width="1"/>
<line x1="298.96" y1="276" x2="298.96" y2="498.6" stroke="#ebebeb" stroke-width="1"/>
<line x1="314.87" y1="276" x2="314.87" y2="498.6" stroke="#ebebeb" stroke-width="1"/>
<line x1="330.78" y1="276" x2="330.78" y2="498.6" stroke="#ebebeb" stroke-width="1"/>
<line x1="346.69" y1="276" x2="346.69" y2="498.6" stroke="#ebebeb" stroke-width="1"/>
<line x1="362.6" y1="276" x2="362.6" y2="498.6" stroke="#ebebeb" stroke-width="1"/>
<line x1="378.51" y1="276" x2="378.51" y2="498.6" stroke="#ebebeb" stroke-width="1"/>
<line x1="394.42" y1="276" x2="394.42" y2="498.6" stroke="#ebebeb" stroke-width="1"/>
<line x1="410.33" y1="276" x2="410.33" y2="498.6" stroke="#ebebeb" stroke-width="1"/>
<rect x="130.26" y="280.76" width="5.07" height="5.07" fill="#f9eff4" fill-opacity="0.8"/>
<rect x="145.46" y="280.05" width="6.5" height="6.5" fill="#def2c4" fill-opacity="0.8"/>
<rect x="161.56" y="280.24" width="6.12" height="6.12" fill="#e7f5d3" fill-opacity="0.8"/>
<rect x="177.85" y="280.62" width="5.36" height="5.36" fill="#eff6e5" fill-opacity="0.8"/>
<rect x="194" y="280.86" width="4.88" height="4.88" fill="#f4f7f0" fill-opacity="0.8"/>
<rect x="209.1" y="280.05" width="6.5" height="6.5" fill="#f8cee6" fill-opacity="0.8"/>
<rect x="224.54" y="279.57" width="7.45" height="7.45" fill="#c4e698" fill-opacity="0.8"/>
<rect x="240.64" y="279.76" width="7.07" height="7.07" fill="#ceebaa" fill-opacity="0.8"/>
<rect x="257.4" y="280.62" width="5.36" height="5.36" fill="#faeaf2" fill-opacity="0.8"/>
<rect x="130.26" y="292.33" width="5.07" height="5.07" fill="#f9eff4" fill-opacity="0.8"/>
<rect x="145.6" y="291.76" width="6.21" height="6.21" fill="#fad7ea" fill-opacity="0.8"/>
<rect x="160.33" y="290.57" width="8.59" height="8.59" fill="#9ed067" fill-opacity="0.8"/>
<rect x="177.99" y="292.33" width="5.07" height="5.07" fill="#f2f6ec" fill-opacity="0.8"/>
<rect x="193.66" y="292.1" width="5.55" height="5.55" fill="#edf6e0" fill-opacity="0.8"/>
<rect x="209.48" y="292" width="5.74" height="5.74" fill="#fce3f0" fill-opacity="0.8"/>
<rect x="225.58" y="292.19" width="5.36" height="5.36" fill="#faeaf2" fill-opacity="0.8"/>
<rect x="241.49" y="292.19" width="5.36" height="5.36" fill="#eff6e5" fill-opacity="0.8"/>
<rect x="257.21" y="292" width="5.74" height="5.74" fill="#ebf6dc" fill-opacity="0.8"/>
<rect x="130.17" y="303.81" width="5.26" height="5.26" fill="#faebf3" fill-opacity="0.8"/>
<rect x="146.03" y="303.76" width="5.36" height="5.36" fill="#faeaf2" fill-opacity="0.8"/>
<rect x="160.9" y="302.71" width="7.45" height="7.45" fill="#eeadd3" fill-opacity="0.8"/>
<rect x="177.76" y="303.67" width="5.55" height="5.55" fill="#fbe7f1" fill-opacity="0.8"/>
<rect x="193.19" y="303.19" width="6.5" height="6.5" fill="#f8cee6" fill-opacity="0.8"/>
<rect x="209.86" y="303.95" width="4.98" height="4.98" fill="#f3f7ee" fill-opacity="0.8"/>
<rect x="225.68" y="303.86" width="5.17" height="5.17" fill="#f1f6e9" fill-opacity="0.8"/>
<rect x="241.54" y="303.81" width="5.26" height="5.26" fill="#f0f6e7" fill-opacity="0.8"/>
<rect x="256.36" y="302.71" width="7.45" height="7.45" fill="#eeadd3" fill-opacity="0.8"/>
<rect x="130.17" y="315.38" width="5.26" height="5.26" fill="#f0f6e7" fill-opacity="0.8"/>
<rect x="146.03" y="315.33" width="5.36" height="5.36" fill="#eff6e5" fill-opacity="0.8"/>
<rect x="162.22" y="315.62" width="4.79" height="4.79" fill="#f5f7f2" fill-opacity="0.8"/>
<rect x="177.66" y="315.14" width="5.74" height="5.74" fill="#fce3f0" fill-opacity="0.8"/>
<rect x="192.34" y="313.9" width="8.21" height="8.21" fill="#acd977" fill-opacity="0.8"/>
<rect x="209.58" y="315.24" width="5.55" height="5.55" fill="#fbe7f1" fill-opacity="0.8"/>
<rect x="257.54" y="315.47" width="5.07" height="5.07" fill="#f9eff4" fill-opacity="0.8"/>
<rect x="130.26" y="327.04" width="5.07" height="5.07" fill="#f9eff4" fill-opacity="0.8"/>
<rect x="146.27" y="327.14" width="4.88" height="4.88" fill="#f4f7f0" fill-opacity="0.8"/>
<rect x="161.84" y="326.81" width="5.55" height="5.55" fill="#edf6e0" fill-opacity="0.8"/>
<rect x="177.85" y="326.9" width="5.36" height="5.36" fill="#faeaf2" fill-opacity="0.8"/>
<rect x="193.19" y="326.33" width="6.5" height="6.5" fill="#def2c4" fill-opacity="0.8"/>
<rect x="209.48" y="326.71" width="5.74" height="5.74" fill="#ebf6dc" fill-opacity="0.8"/>
<rect x="225.15" y="326.47" width="6.21" height="6.21" fill="#e6f5d0" fill-opacity="0.8"/>
<rect x="256.97" y="326.47" width="6.21" height="6.21" fill="#fad7ea" fill-opacity="0.8"/>
<rect x="129.93" y="338.28" width="5.74" height="5.74" fill="#fce3f0" fill-opacity="0.8"/>
<rect x="146.22" y="338.66" width="4.98" height="4.98" fill="#f9f0f5" fill-opacity="0.8"/>
<rect x="160.33" y="336.86" width="8.59" height="8.59" fill="#de76ae" fill-opacity="0.8"/>
<rect x="177.38" y="338" width="6.31" height="6.31" fill="#fad4e9" fill-opacity="0.8"/>
<rect x="193.76" y="338.47" width="5.36" height="5.36" fill="#eff6e5" fill-opacity="0.8"/>
<rect x="209.72" y="338.52" width="5.26" height="5.26" fill="#f0f6e7" fill-opacity="0.8"/>
<rect x="225.77" y="338.66" width="4.98" height="4.98" fill="#f3f7ee" fill-opacity="0.8"/>
<rect x="241.3" y="338.28" width="5.74" height="5.74" fill="#ebf6dc" fill-opacity="0.8"/>
<rect x="257.4" y="338.47" width="5.36" height="5.36" fill="#faeaf2" fill-opacity="0.8"/>
<rect x="130.36" y="350.28" width="4.88" height="4.88" fill="#f8f2f5" fill-opacity="0.8"/>
<rect x="145.7" y="349.71" width="6.02" height="6.02" fill="#e8f5d5" fill-opacity="0.8"/>
<rect x="161.94" y="350.04" width="5.36" height="5.36" fill="#faeaf2" fill-opacity="0.8"/>
<rect x="177.9" y="350.09" width="5.26" height="5.26" fill="#f0f6e7" fill-opacity="0.8"/>
<rect x="192.81" y="349.09" width="7.26" height="7.26" fill="#c9e8a1" fill-opacity="0.8"/>
<rect x="209.91" y="350.28" width="4.88" height="4.88" fill="#f4f7f0" fill-opacity="0.8"/>
<rect x="224.77" y="349.23" width="6.97" height="6.97" fill="#d1ecae" fill-opacity="0.8"/>
<rect x="240.68" y="349.23" width="6.97" height="6.97" fill="#d1ecae" fill-opacity="0.8"/>
<rect x="257.69" y="350.33" width="4.79" height="4.79" fill="#f8f4f6" fill-opacity="0.8"/>
<rect x="129.79" y="361.28" width="6.02" height="6.02" fill="#fcdded" fill-opacity="0.8"/>
<rect x="146.22" y="361.8" width="4.98" height="4.98" fill="#f9f0f5" fill-opacity="0.8"/>
<rect x="161.99" y="361.66" width="5.26" height="5.26" fill="#faebf3" fill-opacity="0.8"/>
<rect x="178.09" y="361.85" width="4.88" height="4.88" fill="#f4f7f0" fill-opacity="0.8"/>
<rect x="193.9" y="361.75" width="5.07" height="5.07" fill="#f2f6ec" fill-opacity="0.8"/>
<rect x="208.06" y="360" width="8.59" height="8.59" fill="#9ed067" fill-opacity="0.8"/>
<rect x="225.77" y="361.8" width="4.98" height="4.98" fill="#f9f0f5" fill-opacity="0.8"/>
<rect x="241.4" y="361.52" width="5.55" height="5.55" fill="#fbe7f1" fill-opacity="0.8"/>
<rect x="257.31" y="361.52" width="5.55" height="5.55" fill="#fbe7f1" fill-opacity="0.8"/>
<rect x="129.08" y="372.13" width="7.45" height="7.45" fill="#eeadd3" fill-opacity="0.8"/>
<rect x="146.31" y="373.47" width="4.79" height="4.79" fill="#f8f4f6" fill-opacity="0.8"/>
<rect x="161.51" y="372.75" width="6.21" height="6.21" fill="#e6f5d0" fill-opacity="0.8"/>
<rect x="177.61" y="372.94" width="5.83" height="5.83" fill="#eaf5d9" fill-opacity="0.8"/>
<rect x="193.19" y="372.61" width="6.5" height="6.5" fill="#f8cee6" fill-opacity="0.8"/>
<rect x="209.24" y="372.75" width="6.21" height="6.21" fill="#e6f5d0" fill-opacity="0.8"/>
<rect x="225.25" y="372.85" width="6.02" height="6.02" fill="#e8f5d5" fill-opacity="0.8"/>
<rect x="241.06" y="372.75" width="6.21" height="6.21" fill="#e6f5d0" fill-opacity="0.8"/>
<rect x="257.21" y="372.99" width="5.74" height="5.74" fill="#fce3f0" fill-opacity="0.8"/>
<rect x="130.03" y="384.66" width="5.55" height="5.55" fill="#edf6e0" fill-opacity="0.8"/>
<rect x="146.17" y="384.89" width="5.07" height="5.07" fill="#f9eff4" fill-opacity="0.8"/>
<rect x="161.84" y="384.66" width="5.55" height="5.55" fill="#edf6e0" fill-opacity="0.8"/>
<rect x="176.9" y="383.8" width="7.26" height="7.26" fill="#f1b6da" fill-opacity="0.8"/>
<rect x="193.66" y="384.66" width="5.55" height="5.55" fill="#edf6e0" fill-opacity="0.8"/>
<rect x="209.58" y="384.66" width="5.55" height="5.55" fill="#fbe7f1" fill-opacity="0.8"/>
<rect x="225.11" y="384.28" width="6.31" height="6.31" fill="#fad4e9" fill-opacity="0.8"/>
<rect x="240.92" y="384.18" width="6.5" height="6.5" fill="#f8cee6" fill-opacity="0.8"/>
<rect x="257.31" y="384.66" width="5.55" height="5.55" fill="#edf6e0" fill-opacity="0.8"/>
<rect x="130.17" y="396.37" width="5.26" height="5.26" fill="#f0f6e7" fill-opacity="0.8"/>
<rect x="146.03" y="396.32" width="5.36" height="5.36" fill="#eff6e5" fill-opacity="0.8"/>
<rect x="161.94" y="396.32" width="5.36" height="5.36" fill="#faeaf2" fill-opacity="0.8"/>
<rect x="177.9" y="396.37" width="5.26" height="5.26" fill="#f0f6e7" fill-opacity="0.8"/>
<rect x="194.04" y="396.61" width="4.79" height="4.79" fill="#f8f4f6" fill-opacity="0.8"/>
<rect x="209.2" y="395.85" width="6.31" height="6.31" fill="#fad4e9" fill-opacity="0.8"/>
<rect x="225.77" y="396.51" width="4.98" height="4.98" fill="#f3f7ee" fill-opacity="0.8"/>
<rect x="241.68" y="396.51" width="4.98" height="4.98" fill="#f9f0f5" fill-opacity="0.8"/>
<rect x="257.59" y="396.51" width="4.98" height="4.98" fill="#f3f7ee" fill-opacity="0.8"/>
<rect x="130.22" y="407.99" width="5.17" height="5.17" fill="#f1f6e9" fill-opacity="0.8"/>
<rect x="144.99" y="406.85" width="7.45" height="7.45" fill="#c4e698" fill-opacity="0.8"/>
<rect x="177.66" y="407.7" width="5.74" height="5.74" fill="#fce3f0" fill-opacity="0.8"/>
<rect x="193.19" y="407.32" width="6.5" height="6.5" fill="#f8cee6" fill-opacity="0.8"/>
<rect x="208.63" y="406.85" width="7.45" height="7.45" fill="#eeadd3" fill-opacity="0.8"/>
<rect x="225.01" y="407.32" width="6.5" height="6.5" fill="#f8cee6" fill-opacity="0.8"/>
<rect x="241.68" y="408.08" width="4.98" height="4.98" fill="#f9f0f5" fill-opacity="0.8"/>
<rect x="257.5" y="407.99" width="5.17" height="5.17" fill="#f1f6e9" fill-opacity="0.8"/>
<rect x="129.79" y="419.13" width="6.02" height="6.02" fill="#fcdded" fill-opacity="0.8"/>
<rect x="145.94" y="419.37" width="5.55" height="5.55" fill="#fbe7f1" fill-opacity="0.8"/>
<rect x="161.61" y="419.13" width="6.02" height="6.02" fill="#e8f5d5" fill-opacity="0.8"/>
<rect x="177.28" y="418.89" width="6.5" height="6.5" fill="#def2c4" fill-opacity="0.8"/>
<rect x="193.66" y="419.37" width="5.55" height="5.55" fill="#fbe7f1" fill-opacity="0.8"/>
<rect x="209.58" y="419.37" width="5.55" height="5.55" fill="#edf6e0" fill-opacity="0.8"/>
<rect x="225.34" y="419.22" width="5.83" height="5.83" fill="#eaf5d9" fill-opacity="0.8"/>
<rect x="241.68" y="419.65" width="4.98" height="4.98" fill="#f3f7ee" fill-opacity="0.8"/>
<rect x="256.97" y="419.03" width="6.21" height="6.21" fill="#fad7ea" fill-opacity="0.8"/>
<rect x="129.17" y="430.08" width="7.26" height="7.26" fill="#f1b6da" fill-opacity="0.8"/>
<rect x="146.08" y="431.08" width="5.26" height="5.26" fill="#faebf3" fill-opacity="0.8"/>
<rect x="160.66" y="429.75" width="7.92" height="7.92" fill="#b6df83" fill-opacity="0.8"/>
<rect x="176.09" y="429.27" width="8.88" height="8.88" fill="#94ca5b" fill-opacity="0.8"/>
<rect x="193.09" y="430.37" width="6.69" height="6.69" fill="#d9efbb" fill-opacity="0.8"/>
<rect x="209.43" y="430.79" width="5.83" height="5.83" fill="#eaf5d9" fill-opacity="0.8"/>
<rect x="241.06" y="430.6" width="6.21" height="6.21" fill="#e6f5d0" fill-opacity="0.8"/>
<rect x="255.83" y="429.46" width="8.5" height="8.5" rx="0.6" fill="#e479b6" stroke="#333" stroke-width="1.1"/>
<rect x="129.31" y="441.79" width="6.97" height="6.97" fill="#f4bfde" fill-opacity="0.8"/>
<rect x="145.94" y="442.51" width="5.55" height="5.55" fill="#fbe7f1" fill-opacity="0.8"/>
<rect x="161.84" y="442.51" width="5.55" height="5.55" fill="#edf6e0" fill-opacity="0.8"/>
<rect x="177.04" y="441.79" width="6.97" height="6.97" fill="#d1ecae" fill-opacity="0.8"/>
<rect x="193.9" y="442.74" width="5.07" height="5.07" fill="#f9eff4" fill-opacity="0.8"/>
<rect x="209.86" y="442.79" width="4.98" height="4.98" fill="#f3f7ee" fill-opacity="0.8"/>
<rect x="224.92" y="441.94" width="6.69" height="6.69" fill="#d9efbb" fill-opacity="0.8"/>
<rect x="240.92" y="442.03" width="6.5" height="6.5" fill="#def2c4" fill-opacity="0.8"/>
<rect x="256.59" y="441.79" width="6.97" height="6.97" fill="#f4bfde" fill-opacity="0.8"/>
<rect x="130.12" y="454.17" width="5.36" height="5.36" fill="#eff6e5" fill-opacity="0.8"/>
<rect x="146.22" y="454.36" width="4.98" height="4.98" fill="#f3f7ee" fill-opacity="0.8"/>
<rect x="162.08" y="454.31" width="5.07" height="5.07" fill="#f9eff4" fill-opacity="0.8"/>
<rect x="177.9" y="454.22" width="5.26" height="5.26" fill="#faebf3" fill-opacity="0.8"/>
<rect x="193.19" y="453.6" width="6.5" height="6.5" fill="#f8cee6" fill-opacity="0.8"/>
<rect x="209.72" y="454.22" width="5.26" height="5.26" fill="#faebf3" fill-opacity="0.8"/>
<rect x="225.77" y="454.36" width="4.98" height="4.98" fill="#f9f0f5" fill-opacity="0.8"/>
<rect x="241.4" y="454.08" width="5.55" height="5.55" fill="#fbe7f1" fill-opacity="0.8"/>
<rect x="257.59" y="454.36" width="4.98" height="4.98" fill="#f9f0f5" fill-opacity="0.8"/>
<rect x="129.69" y="465.31" width="6.21" height="6.21" fill="#fad7ea" fill-opacity="0.8"/>
<rect x="146.17" y="465.88" width="5.07" height="5.07" fill="#f9eff4" fill-opacity="0.8"/>
<rect x="160.99" y="464.79" width="7.26" height="7.26" fill="#c9e8a1" fill-opacity="0.8"/>
<rect x="176.24" y="464.12" width="8.59" height="8.59" fill="#9ed067" fill-opacity="0.8"/>
<rect x="193.9" y="465.88" width="5.07" height="5.07" fill="#f2f6ec" fill-opacity="0.8"/>
<rect x="209.81" y="465.88" width="5.07" height="5.07" fill="#f9eff4" fill-opacity="0.8"/>
<rect x="224.92" y="465.07" width="6.69" height="6.69" fill="#d9efbb" fill-opacity="0.8"/>
<rect x="241.06" y="465.31" width="6.21" height="6.21" fill="#e6f5d0" fill-opacity="0.8"/>
<rect x="257.07" y="465.41" width="6.02" height="6.02" fill="#fcdded" fill-opacity="0.8"/>
<rect x="130.41" y="477.6" width="4.79" height="4.79" fill="#f8f4f6" fill-opacity="0.8"/>
<rect x="145.7" y="476.98" width="6.02" height="6.02" fill="#fcdded" fill-opacity="0.8"/>
<rect x="162.08" y="477.45" width="5.07" height="5.07" fill="#f9eff4" fill-opacity="0.8"/>
<rect x="178.04" y="477.5" width="4.98" height="4.98" fill="#f9f0f5" fill-opacity="0.8"/>
<rect x="192.24" y="475.79" width="8.4" height="8.4" fill="#a5d56f" fill-opacity="0.8"/>
<rect x="209.86" y="477.5" width="4.98" height="4.98" fill="#f9f0f5" fill-opacity="0.8"/>
<rect x="225.82" y="477.55" width="4.88" height="4.88" fill="#f4f7f0" fill-opacity="0.8"/>
<rect x="241.68" y="477.5" width="4.98" height="4.98" fill="#f9f0f5" fill-opacity="0.8"/>
<rect x="257.45" y="477.36" width="5.26" height="5.26" fill="#f0f6e7" fill-opacity="0.8"/>
<rect x="130.31" y="489.07" width="4.98" height="4.98" fill="#f9f0f5" fill-opacity="0.8"/>
<rect x="146.31" y="489.17" width="4.79" height="4.79" fill="#f8f4f6" fill-opacity="0.8"/>
<rect x="162.13" y="489.07" width="4.98" height="4.98" fill="#f9f0f5" fill-opacity="0.8"/>
<rect x="177.85" y="488.88" width="5.36" height="5.36" fill="#eff6e5" fill-opacity="0.8"/>
<rect x="193.52" y="488.64" width="5.83" height="5.83" fill="#eaf5d9" fill-opacity="0.8"/>
<rect x="208.63" y="487.83" width="7.45" height="7.45" fill="#c4e698" fill-opacity="0.8"/>
<rect x="225.58" y="488.88" width="5.36" height="5.36" fill="#eff6e5" fill-opacity="0.8"/>
<rect x="241.73" y="489.12" width="4.88" height="4.88" fill="#f4f7f0" fill-opacity="0.8"/>
<rect x="257.45" y="488.93" width="5.26" height="5.26" fill="#faebf3" fill-opacity="0.8"/>
<rect x="279.23" y="279.48" width="7.64" height="7.64" fill="#eba4cd" fill-opacity="0.8"/>
<rect x="296.38" y="280.72" width="5.17" height="5.17" fill="#faedf4" fill-opacity="0.8"/>
<rect x="311.81" y="280.24" width="6.12" height="6.12" fill="#e7f5d3" fill-opacity="0.8"/>
<rect x="328.01" y="280.53" width="5.55" height="5.55" fill="#edf6e0" fill-opacity="0.8"/>
<rect x="343.82" y="280.43" width="5.74" height="5.74" fill="#ebf6dc" fill-opacity="0.8"/>
<rect x="359.97" y="280.67" width="5.26" height="5.26" fill="#faebf3" fill-opacity="0.8"/>
<rect x="375.45" y="280.24" width="6.12" height="6.12" fill="#e7f5d3" fill-opacity="0.8"/>
<rect x="389.72" y="278.6" width="9.4" height="9.4" rx="0.6" fill="#6aaa3a" stroke="#333" stroke-width="1.1"/>
<rect x="406.99" y="279.95" width="6.69" height="6.69" fill="#f6c8e3" fill-opacity="0.8"/>
<rect x="280.37" y="292.19" width="5.36" height="5.36" fill="#faeaf2" fill-opacity="0.8"/>
<rect x="296.42" y="292.33" width="5.07" height="5.07" fill="#f9eff4" fill-opacity="0.8"/>
<rect x="311.52" y="291.52" width="6.69" height="6.69" fill="#d9efbb" fill-opacity="0.8"/>
<rect x="326.96" y="291.05" width="7.64" height="7.64" fill="#bee490" fill-opacity="0.8"/>
<rect x="344.3" y="292.48" width="4.79" height="4.79" fill="#f8f4f6" fill-opacity="0.8"/>
<rect x="360.11" y="292.38" width="4.98" height="4.98" fill="#f9f0f5" fill-opacity="0.8"/>
<rect x="375.83" y="292.19" width="5.36" height="5.36" fill="#eff6e5" fill-opacity="0.8"/>
<rect x="391.79" y="292.24" width="5.26" height="5.26" fill="#f0f6e7" fill-opacity="0.8"/>
<rect x="407.7" y="292.24" width="5.26" height="5.26" fill="#faebf3" fill-opacity="0.8"/>
<rect x="279.56" y="302.95" width="6.97" height="6.97" fill="#d1ecae" fill-opacity="0.8"/>
<rect x="296.42" y="303.9" width="5.07" height="5.07" fill="#f2f6ec" fill-opacity="0.8"/>
<rect x="311.52" y="303.09" width="6.69" height="6.69" fill="#f6c8e3" fill-opacity="0.8"/>
<rect x="327.29" y="302.95" width="6.97" height="6.97" fill="#f4bfde" fill-opacity="0.8"/>
<rect x="343.92" y="303.67" width="5.55" height="5.55" fill="#fbe7f1" fill-opacity="0.8"/>
<rect x="359.45" y="303.29" width="6.31" height="6.31" fill="#fad4e9" fill-opacity="0.8"/>
<rect x="376.12" y="304.05" width="4.79" height="4.79" fill="#f8f4f6" fill-opacity="0.8"/>
<rect x="392.03" y="304.05" width="4.79" height="4.79" fill="#f5f7f2" fill-opacity="0.8"/>
<rect x="407.32" y="303.43" width="6.02" height="6.02" fill="#e8f5d5" fill-opacity="0.8"/>
<rect x="279.47" y="314.43" width="7.17" height="7.17" fill="#f2b9db" fill-opacity="0.8"/>
<rect x="295.57" y="314.62" width="6.79" height="6.79" fill="#f5c5e1" fill-opacity="0.8"/>
<rect x="311.52" y="314.66" width="6.69" height="6.69" fill="#d9efbb" fill-opacity="0.8"/>
<rect x="328.34" y="315.57" width="4.88" height="4.88" fill="#f4f7f0" fill-opacity="0.8"/>
<rect x="343.06" y="314.38" width="7.26" height="7.26" fill="#c9e8a1" fill-opacity="0.8"/>
<rect x="359.92" y="315.33" width="5.36" height="5.36" fill="#eff6e5" fill-opacity="0.8"/>
<rect x="375.4" y="314.9" width="6.21" height="6.21" fill="#e6f5d0" fill-opacity="0.8"/>
<rect x="391.17" y="314.76" width="6.5" height="6.5" fill="#def2c4" fill-opacity="0.8"/>
<rect x="406.38" y="314.06" width="7.9" height="7.9" rx="0.6" fill="#ea8cc3" stroke="#333" stroke-width="1.1"/>
<rect x="280.28" y="326.81" width="5.55" height="5.55" fill="#fbe7f1" fill-opacity="0.8"/>
<rect x="296.47" y="327.09" width="4.98" height="4.98" fill="#f9f0f5" fill-opacity="0.8"/>
<rect x="311.52" y="326.24" width="6.69" height="6.69" fill="#d9efbb" fill-opacity="0.8"/>
<rect x="328.1" y="326.9" width="5.36" height="5.36" fill="#eff6e5" fill-opacity="0.8"/>
<rect x="342.24" y="325.13" width="8.9" height="8.9" rx="0.6" fill="#6aad3d" stroke="#333" stroke-width="1.1"/>
<rect x="358.88" y="325.86" width="7.45" height="7.45" fill="#c4e698" fill-opacity="0.8"/>
<rect x="374.55" y="325.62" width="7.92" height="7.92" fill="#b6df83" fill-opacity="0.8"/>
<rect x="390.79" y="325.95" width="7.26" height="7.26" fill="#c9e8a1" fill-opacity="0.8"/>
<rect x="406.38" y="325.63" width="7.9" height="7.9" rx="0.6" fill="#eb9dcc" stroke="#333" stroke-width="1.1"/>
<rect x="280.56" y="338.66" width="4.98" height="4.98" fill="#f3f7ee" fill-opacity="0.8"/>
<rect x="296.38" y="338.57" width="5.17" height="5.17" fill="#faedf4" fill-opacity="0.8"/>
<rect x="312.24" y="338.52" width="5.26" height="5.26" fill="#f0f6e7" fill-opacity="0.8"/>
<rect x="328.01" y="338.38" width="5.55" height="5.55" fill="#edf6e0" fill-opacity="0.8"/>
<rect x="344.3" y="338.76" width="4.79" height="4.79" fill="#f8f4f6" fill-opacity="0.8"/>
<rect x="360.11" y="338.66" width="4.98" height="4.98" fill="#f9f0f5" fill-opacity="0.8"/>
<rect x="376.12" y="338.76" width="4.79" height="4.79" fill="#f5f7f2" fill-opacity="0.8"/>
<rect x="391.84" y="338.57" width="5.17" height="5.17" fill="#faedf4" fill-opacity="0.8"/>
<rect x="406.38" y="337.2" width="7.9" height="7.9" rx="0.6" fill="#8dcb68" stroke="#333" stroke-width="1.1"/>
<rect x="280.66" y="350.33" width="4.79" height="4.79" fill="#f8f4f6" fill-opacity="0.8"/>
<rect x="296.47" y="350.23" width="4.98" height="4.98" fill="#f3f7ee" fill-opacity="0.8"/>
<rect x="311.72" y="349.57" width="6.31" height="6.31" fill="#fad4e9" fill-opacity="0.8"/>
<rect x="327.53" y="349.47" width="6.5" height="6.5" fill="#f8cee6" fill-opacity="0.8"/>
<rect x="344.2" y="350.23" width="4.98" height="4.98" fill="#f9f0f5" fill-opacity="0.8"/>
<rect x="359.83" y="349.95" width="5.55" height="5.55" fill="#edf6e0" fill-opacity="0.8"/>
<rect x="375.88" y="350.09" width="5.26" height="5.26" fill="#faebf3" fill-opacity="0.8"/>
<rect x="391.93" y="350.23" width="4.98" height="4.98" fill="#f3f7ee" fill-opacity="0.8"/>
<rect x="407.79" y="350.18" width="5.07" height="5.07" fill="#f9eff4" fill-opacity="0.8"/>
<rect x="280.18" y="361.42" width="5.74" height="5.74" fill="#ebf6dc" fill-opacity="0.8"/>
<rect x="296.57" y="361.9" width="4.79" height="4.79" fill="#f8f4f6" fill-opacity="0.8"/>
<rect x="311.52" y="360.94" width="6.69" height="6.69" fill="#f6c8e3" fill-opacity="0.8"/>
<rect x="328.2" y="361.71" width="5.17" height="5.17" fill="#faedf4" fill-opacity="0.8"/>
<rect x="344.2" y="361.8" width="4.98" height="4.98" fill="#f3f7ee" fill-opacity="0.8"/>
<rect x="359.49" y="361.18" width="6.21" height="6.21" fill="#e6f5d0" fill-opacity="0.8"/>
<rect x="375.88" y="361.66" width="5.26" height="5.26" fill="#faebf3" fill-opacity="0.8"/>
<rect x="391.07" y="360.94" width="6.69" height="6.69" fill="#f6c8e3" fill-opacity="0.8"/>
<rect x="407.46" y="361.42" width="5.74" height="5.74" fill="#ebf6dc" fill-opacity="0.8"/>
<rect x="280.18" y="372.99" width="5.74" height="5.74" fill="#fce3f0" fill-opacity="0.8"/>
<rect x="295.33" y="372.23" width="7.26" height="7.26" fill="#c9e8a1" fill-opacity="0.8"/>
<rect x="312.19" y="373.18" width="5.36" height="5.36" fill="#eff6e5" fill-opacity="0.8"/>
<rect x="327.15" y="372.23" width="7.26" height="7.26" fill="#c9e8a1" fill-opacity="0.8"/>
<rect x="344.3" y="373.47" width="4.79" height="4.79" fill="#f8f4f6" fill-opacity="0.8"/>
<rect x="359.97" y="373.23" width="5.26" height="5.26" fill="#f0f6e7" fill-opacity="0.8"/>
<rect x="375.59" y="372.94" width="5.83" height="5.83" fill="#eaf5d9" fill-opacity="0.8"/>
<rect x="391.27" y="372.71" width="6.31" height="6.31" fill="#e4f4cc" fill-opacity="0.8"/>
<rect x="407.56" y="373.09" width="5.55" height="5.55" fill="#fbe7f1" fill-opacity="0.8"/>
<rect x="279.32" y="383.7" width="7.45" height="7.45" fill="#c4e698" fill-opacity="0.8"/>
<rect x="296.28" y="384.75" width="5.36" height="5.36" fill="#eff6e5" fill-opacity="0.8"/>
<rect x="312" y="384.56" width="5.74" height="5.74" fill="#fce3f0" fill-opacity="0.8"/>
<rect x="327.44" y="384.08" width="6.69" height="6.69" fill="#f6c8e3" fill-opacity="0.8"/>
<rect x="343.2" y="383.94" width="6.97" height="6.97" fill="#f4bfde" fill-opacity="0.8"/>
<rect x="359.11" y="383.94" width="6.97" height="6.97" fill="#f4bfde" fill-opacity="0.8"/>
<rect x="375.02" y="383.94" width="6.97" height="6.97" fill="#f4bfde" fill-opacity="0.8"/>
<rect x="391.41" y="384.42" width="6.02" height="6.02" fill="#fcdded" fill-opacity="0.8"/>
<rect x="406.08" y="383.18" width="8.5" height="8.5" rx="0.6" fill="#88c95c" stroke="#333" stroke-width="1.1"/>
<rect x="280.66" y="396.61" width="4.79" height="4.79" fill="#f8f4f6" fill-opacity="0.8"/>
<rect x="296.33" y="396.37" width="5.26" height="5.26" fill="#f0f6e7" fill-opacity="0.8"/>
<rect x="312.29" y="396.42" width="5.17" height="5.17" fill="#f1f6e9" fill-opacity="0.8"/>
<rect x="328.29" y="396.51" width="4.98" height="4.98" fill="#f9f0f5" fill-opacity="0.8"/>
<rect x="344.3" y="396.61" width="4.79" height="4.79" fill="#f8f4f6" fill-opacity="0.8"/>
<rect x="360.16" y="396.56" width="4.88" height="4.88" fill="#f4f7f0" fill-opacity="0.8"/>
<rect x="376.12" y="396.61" width="4.79" height="4.79" fill="#f8f4f6" fill-opacity="0.8"/>
<rect x="392.03" y="396.61" width="4.79" height="4.79" fill="#f5f7f2" fill-opacity="0.8"/>
<rect x="407.84" y="396.51" width="4.98" height="4.98" fill="#f9f0f5" fill-opacity="0.8"/>
<rect x="280.42" y="407.94" width="5.26" height="5.26" fill="#faebf3" fill-opacity="0.8"/>
<rect x="296.42" y="408.03" width="5.07" height="5.07" fill="#f9eff4" fill-opacity="0.8"/>
<rect x="311.62" y="407.32" width="6.5" height="6.5" fill="#def2c4" fill-opacity="0.8"/>
<rect x="328.29" y="408.08" width="4.98" height="4.98" fill="#f9f0f5" fill-opacity="0.8"/>
<rect x="343.06" y="406.94" width="7.26" height="7.26" fill="#c9e8a1" fill-opacity="0.8"/>
<rect x="359.73" y="407.7" width="5.74" height="5.74" fill="#ebf6dc" fill-opacity="0.8"/>
<rect x="376.12" y="408.18" width="4.79" height="4.79" fill="#f8f4f6" fill-opacity="0.8"/>
<rect x="391.74" y="407.89" width="5.36" height="5.36" fill="#eff6e5" fill-opacity="0.8"/>
<rect x="407.08" y="407.32" width="6.5" height="6.5" fill="#f8cee6" fill-opacity="0.8"/>
<rect x="279.7" y="418.79" width="6.69" height="6.69" fill="#f6c8e3" fill-opacity="0.8"/>
<rect x="296.52" y="419.7" width="4.88" height="4.88" fill="#f4f7f0" fill-opacity="0.8"/>
<rect x="310.57" y="417.84" width="8.59" height="8.59" fill="#9ed067" fill-opacity="0.8"/>
<rect x="325.88" y="417.24" width="9.8" height="9.8" rx="0.6" fill="#3f7f2e" stroke="#333" stroke-width="1.1"/>
<rect x="344.15" y="419.6" width="5.07" height="5.07" fill="#f2f6ec" fill-opacity="0.8"/>
<rect x="359.92" y="419.46" width="5.36" height="5.36" fill="#eff6e5" fill-opacity="0.8"/>
<rect x="375.07" y="418.7" width="6.88" height="6.88" fill="#d4edb2" fill-opacity="0.8"/>
<rect x="391.27" y="418.99" width="6.31" height="6.31" fill="#e4f4cc" fill-opacity="0.8"/>
<rect x="407.46" y="419.27" width="5.74" height="5.74" fill="#fce3f0" fill-opacity="0.8"/>
<rect x="280.18" y="430.84" width="5.74" height="5.74" fill="#fce3f0" fill-opacity="0.8"/>
<rect x="296.47" y="431.22" width="4.98" height="4.98" fill="#f9f0f5" fill-opacity="0.8"/>
<rect x="311.24" y="430.08" width="7.26" height="7.26" fill="#c9e8a1" fill-opacity="0.8"/>
<rect x="326.82" y="429.75" width="7.92" height="7.92" fill="#b6df83" fill-opacity="0.8"/>
<rect x="342.59" y="429.61" width="8.2" height="8.2" rx="0.6" fill="#7dbf4e" stroke="#333" stroke-width="1.1"/>
<rect x="360.21" y="431.32" width="4.79" height="4.79" fill="#f5f7f2" fill-opacity="0.8"/>
<rect x="375.26" y="430.46" width="6.5" height="6.5" fill="#def2c4" fill-opacity="0.8"/>
<rect x="391.65" y="430.94" width="5.55" height="5.55" fill="#edf6e0" fill-opacity="0.8"/>
<rect x="407.46" y="430.84" width="5.74" height="5.74" fill="#fce3f0" fill-opacity="0.8"/>
<rect x="280.51" y="442.74" width="5.07" height="5.07" fill="#f9eff4" fill-opacity="0.8"/>
<rect x="296.57" y="442.89" width="4.79" height="4.79" fill="#f8f4f6" fill-opacity="0.8"/>
<rect x="312.24" y="442.65" width="5.26" height="5.26" fill="#f0f6e7" fill-opacity="0.8"/>
<rect x="328.15" y="442.65" width="5.26" height="5.26" fill="#f0f6e7" fill-opacity="0.8"/>
<rect x="343.44" y="442.03" width="6.5" height="6.5" fill="#def2c4" fill-opacity="0.8"/>
<rect x="359.02" y="441.7" width="7.17" height="7.17" fill="#cceaa5" fill-opacity="0.8"/>
<rect x="374.93" y="441.7" width="7.17" height="7.17" fill="#cceaa5" fill-opacity="0.8"/>
<rect x="391.55" y="442.41" width="5.74" height="5.74" fill="#ebf6dc" fill-opacity="0.8"/>
<rect x="406.99" y="441.94" width="6.69" height="6.69" fill="#f6c8e3" fill-opacity="0.8"/>
<rect x="280.66" y="454.46" width="4.79" height="4.79" fill="#f5f7f2" fill-opacity="0.8"/>
<rect x="296.28" y="454.17" width="5.36" height="5.36" fill="#eff6e5" fill-opacity="0.8"/>
<rect x="310.67" y="452.65" width="8.4" height="8.4" fill="#a5d56f" fill-opacity="0.8"/>
<rect x="326.58" y="452.65" width="8.4" height="8.4" fill="#a5d56f" fill-opacity="0.8"/>
<rect x="343.82" y="453.98" width="5.74" height="5.74" fill="#ebf6dc" fill-opacity="0.8"/>
<rect x="360.06" y="454.31" width="5.07" height="5.07" fill="#f9eff4" fill-opacity="0.8"/>
<rect x="375.5" y="453.84" width="6.02" height="6.02" fill="#e8f5d5" fill-opacity="0.8"/>
<rect x="391.79" y="454.22" width="5.26" height="5.26" fill="#f0f6e7" fill-opacity="0.8"/>
<rect x="407.84" y="454.36" width="4.98" height="4.98" fill="#f9f0f5" fill-opacity="0.8"/>
<rect x="280.66" y="466.03" width="4.79" height="4.79" fill="#f5f7f2" fill-opacity="0.8"/>
<rect x="294.95" y="464.41" width="8.02" height="8.02" fill="#b2dd7f" fill-opacity="0.8"/>
<rect x="312.24" y="465.79" width="5.26" height="5.26" fill="#faebf3" fill-opacity="0.8"/>
<rect x="328.15" y="465.79" width="5.26" height="5.26" fill="#faebf3" fill-opacity="0.8"/>
<rect x="344.3" y="466.03" width="4.79" height="4.79" fill="#f8f4f6" fill-opacity="0.8"/>
<rect x="360.16" y="465.98" width="4.88" height="4.88" fill="#f8f2f5" fill-opacity="0.8"/>
<rect x="375.97" y="465.88" width="5.07" height="5.07" fill="#f9eff4" fill-opacity="0.8"/>
<rect x="391.98" y="465.98" width="4.88" height="4.88" fill="#f4f7f0" fill-opacity="0.8"/>
<rect x="407.56" y="465.65" width="5.55" height="5.55" fill="#edf6e0" fill-opacity="0.8"/>
<rect x="280.18" y="477.12" width="5.74" height="5.74" fill="#ebf6dc" fill-opacity="0.8"/>
<rect x="296.57" y="477.6" width="4.79" height="4.79" fill="#f8f4f6" fill-opacity="0.8"/>
<rect x="312.48" y="477.6" width="4.79" height="4.79" fill="#f8f4f6" fill-opacity="0.8"/>
<rect x="328.29" y="477.5" width="4.98" height="4.98" fill="#f9f0f5" fill-opacity="0.8"/>
<rect x="344.06" y="477.36" width="5.26" height="5.26" fill="#faebf3" fill-opacity="0.8"/>
<rect x="359.73" y="477.12" width="5.74" height="5.74" fill="#fce3f0" fill-opacity="0.8"/>
<rect x="375.26" y="476.74" width="6.5" height="6.5" fill="#f8cee6" fill-opacity="0.8"/>
<rect x="391.17" y="476.74" width="6.5" height="6.5" fill="#f8cee6" fill-opacity="0.8"/>
<rect x="407.84" y="477.5" width="4.98" height="4.98" fill="#f3f7ee" fill-opacity="0.8"/>
<rect x="280.66" y="489.17" width="4.79" height="4.79" fill="#f5f7f2" fill-opacity="0.8"/>
<rect x="296.47" y="489.07" width="4.98" height="4.98" fill="#f9f0f5" fill-opacity="0.8"/>
<rect x="312.29" y="488.98" width="5.17" height="5.17" fill="#f1f6e9" fill-opacity="0.8"/>
<rect x="328.15" y="488.93" width="5.26" height="5.26" fill="#faebf3" fill-opacity="0.8"/>
<rect x="344.11" y="488.98" width="5.17" height="5.17" fill="#faedf4" fill-opacity="0.8"/>
<rect x="360.02" y="488.98" width="5.17" height="5.17" fill="#faedf4" fill-opacity="0.8"/>
<rect x="375.93" y="488.98" width="5.17" height="5.17" fill="#faedf4" fill-opacity="0.8"/>
<rect x="391.93" y="489.07" width="4.98" height="4.98" fill="#f9f0f5" fill-opacity="0.8"/>
<rect x="407.32" y="488.55" width="6.02" height="6.02" fill="#fcdded" fill-opacity="0.8"/>
<text transform="translate(135.8,505) rotate(-40) scale(0.91,1)" font-size="6.9" text-anchor="end" fill="#3d3d3d" stroke="#3d3d3d">CD4+ T cells</text>
<text transform="translate(151.71,505) rotate(-40) scale(0.91,1)" font-size="6.9" text-anchor="end" fill="#3d3d3d" stroke="#3d3d3d">CD8+ T cells</text>
<text transform="translate(167.62,505) rotate(-40) scale(0.91,1)" font-size="6.9" text-anchor="end" fill="#3d3d3d" stroke="#3d3d3d">CD4+ CD38+ HLA−DR+ T cells</text>
<text transform="translate(183.53,505) rotate(-40) scale(0.91,1)" font-size="6.9" text-anchor="end" fill="#3d3d3d" stroke="#3d3d3d">CD8+ CD38+ HLA−DR+ T cells</text>
<text transform="translate(199.44,505) rotate(-40) scale(0.91,1)" font-size="6.9" text-anchor="end" fill="#3d3d3d" stroke="#3d3d3d">CRP</text>
<text transform="translate(215.35,505) rotate(-40) scale(0.91,1)" font-size="6.9" text-anchor="end" fill="#3d3d3d" stroke="#3d3d3d">IL−6</text>
<text transform="translate(231.26,505) rotate(-40) scale(0.91,1)" font-size="6.9" text-anchor="end" fill="#3d3d3d" stroke="#3d3d3d">TNF−a</text>
<text transform="translate(247.17,505) rotate(-40) scale(0.91,1)" font-size="6.9" text-anchor="end" fill="#3d3d3d" stroke="#3d3d3d">sCD14</text>
<text transform="translate(263.08,505) rotate(-40) scale(0.91,1)" font-size="6.9" text-anchor="end" fill="#3d3d3d" stroke="#3d3d3d">BMI</text>
<text transform="translate(286.05,505) rotate(-40) scale(0.91,1)" font-size="6.9" text-anchor="end" fill="#3d3d3d" stroke="#3d3d3d">CD4+ T cells</text>
<text transform="translate(301.96,505) rotate(-40) scale(0.91,1)" font-size="6.9" text-anchor="end" fill="#3d3d3d" stroke="#3d3d3d">CD8+ T cells</text>
<text transform="translate(317.87,505) rotate(-40) scale(0.91,1)" font-size="6.9" text-anchor="end" fill="#3d3d3d" stroke="#3d3d3d">CD4+ CD38+ HLA−DR+ T cells</text>
<text transform="translate(333.78,505) rotate(-40) scale(0.91,1)" font-size="6.9" text-anchor="end" fill="#3d3d3d" stroke="#3d3d3d">CD8+ CD38+ HLA−DR+ T cells</text>
<text transform="translate(349.69,505) rotate(-40) scale(0.91,1)" font-size="6.9" text-anchor="end" fill="#3d3d3d" stroke="#3d3d3d">CRP</text>
<text transform="translate(365.6,505) rotate(-40) scale(0.91,1)" font-size="6.9" text-anchor="end" fill="#3d3d3d" stroke="#3d3d3d">IL−6</text>
<text transform="translate(381.51,505) rotate(-40) scale(0.91,1)" font-size="6.9" text-anchor="end" fill="#3d3d3d" stroke="#3d3d3d">TNF−a</text>
<text transform="translate(397.42,505) rotate(-40) scale(0.91,1)" font-size="6.9" text-anchor="end" fill="#3d3d3d" stroke="#3d3d3d">sCD14</text>
<text transform="translate(413.33,505) rotate(-40) scale(0.91,1)" font-size="6.9" text-anchor="end" fill="#3d3d3d" stroke="#3d3d3d">BMI</text>
<text transform="translate(438.2,360.3) scale(0.93,1)" font-size="8.4" fill="#1a1a1a" stroke="#1a1a1a">Repeated Measures Correlation</text>
<rect x="461.1" y="367.2" width="64.8" height="13.2" fill="url(#rmc)"/>
<text x="461.6" y="389.6" font-size="5.6" text-anchor="middle" fill="#4d4d4d" stroke="#4d4d4d">−0.6</text>
<text x="494.1" y="389.6" font-size="5.6" text-anchor="middle" fill="#4d4d4d" stroke="#4d4d4d">0.0</text>
<text x="524.5" y="389.6" font-size="5.6" text-anchor="middle" fill="#4d4d4d" stroke="#4d4d4d">0.6</text>
<text transform="translate(493.4,419.1) scale(0.93,1)" font-size="8.6" text-anchor="middle" fill="#1a1a1a" stroke="#1a1a1a">q &lt; 0.05</text>
<rect x="474.3" y="429.5" width="2.6" height="2.8" fill="#f7f7f7" stroke="#222" stroke-width="0.9"/>
<text x="479.6" y="433.0" font-size="6.4" fill="#333" stroke="#333">&lt; 0.05</text>
<rect x="500.8" y="429.5" width="2.6" height="2.8" fill="#f7f7f7" stroke="#ddd" stroke-width="0.6"/>
<text x="506.8" y="433.0" font-size="6.2" fill="#333" stroke="#333">ns</text>
</svg></body></html>
